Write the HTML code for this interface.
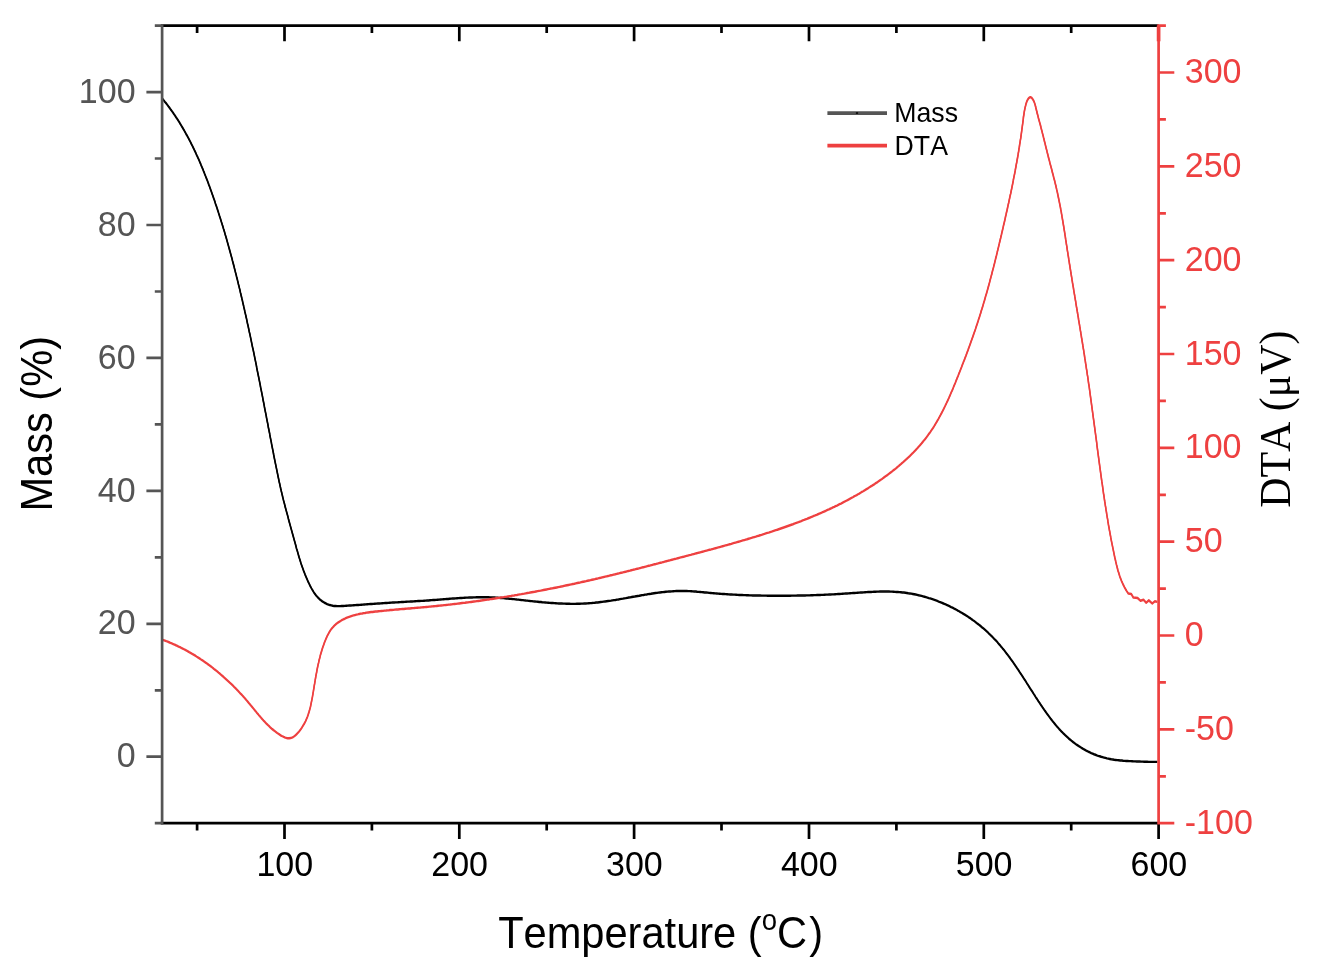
<!DOCTYPE html>
<html lang="en">
<head>
<meta charset="utf-8">
<title>TG-DTA curve</title>
<style>
html,body{margin:0;padding:0;background:#fff;}
body{width:1329px;height:975px;overflow:hidden;}
svg{display:block;}
text{font-kerning:none;}
</style>
</head>
<body>
<svg width="1329" height="975" viewBox="0 0 1329 975">
<rect width="1329" height="975" fill="#fff"/>
<g fill="none" stroke="#000000" stroke-width="1.5" stroke-linejoin="round" stroke-linecap="butt"><path d="M162.1,97.9 L163.0,99.0 L164.0,100.2 L164.9,101.4 L165.9,102.6 L166.8,103.7 L167.7,104.9 L168.6,106.1 L169.5,107.3 L170.4,108.6 L171.3,109.8 L172.1,111.0 L173.0,112.2 L173.8,113.5 L174.7,114.7 L175.5,115.9 L176.3,117.2 L177.2,118.5 L178.0,119.7 L178.8,121.0 L179.6,122.2 L180.3,123.5 L181.1,124.8 L181.9,126.1 L182.7,127.4 L183.4,128.7 L184.2,130.0 L184.9,131.3 L185.6,132.6 L186.3,133.9 L187.1,135.2 L187.8,136.5 L188.5,137.8 L189.2,139.2 L189.9,140.5 L190.6,141.8 L191.2,143.2 L191.9,144.5 L192.6,145.8 L193.2,147.2 L193.9,148.5 L194.5,149.9 L195.2,151.2 L195.8,152.6 L196.4,154.0 L197.0,155.3 L197.7,156.7 L198.3,158.1 L198.9,159.4 L199.5,160.8 L200.1,162.2 L200.7,163.6 L201.2,165.0 L201.8,166.3 L202.4,167.7 L203.0,169.1 L203.5,170.5 L204.1,171.9 L204.6,173.3 L205.2,174.7 L205.7,176.1 L206.3,177.5 L206.8,178.9 L207.4,180.3 L207.9,181.7 L208.4,183.1 L208.9,184.5 L209.5,185.9 L210.0,187.4 L210.5,188.8 L211.0,190.2 L211.5,191.6 L212.0,193.0 L212.5,194.4 L213.0,195.8 L213.5,197.3 L214.0,198.7 L214.5,200.1 L215.0,201.5 L215.4,203.0 L215.9,204.4 L216.4,205.8 L216.9,207.2 L217.3,208.6 L217.8,210.1 L218.3,211.5 L218.7,212.9 L219.2,214.4 L219.6,215.8 L220.1,217.2 L220.5,218.6 L221.0,220.1 L221.4,221.5 L221.9,222.9 L222.3,224.4 L222.8,225.8 L223.2,227.2 L223.6,228.7 L224.1,230.1 L224.5,231.5 L224.9,233.0 L225.3,234.4 L225.8,235.9 L226.2,237.3 L226.6,238.7 L227.0,240.2 L227.4,241.6 L227.8,243.1 L228.2,244.5 L228.6,246.0 L229.0,247.4 L229.4,248.8 L229.8,250.3 L230.2,251.7 L230.6,253.2 L231.0,254.6 L231.4,256.1 L231.8,257.5 L232.2,259.0 L232.5,260.4 L232.9,261.9 L233.3,263.3 L233.7,264.8 L234.1,266.2 L234.4,267.7 L234.8,269.1 L235.2,270.6 L235.5,272.0 L235.9,273.5 L236.3,274.9 L236.6,276.4 L237.0,277.8 L237.4,279.3 L237.7,280.7 L238.1,282.2 L238.4,283.7 L238.8,285.1 L239.2,286.6 L239.5,288.0 L239.9,289.5 L240.2,290.9 L240.5,292.4 L240.9,293.9 L241.2,295.3 L241.6,296.8 L241.9,298.2 L242.3,299.7 L242.6,301.2 L242.9,302.6 L243.3,304.1 L243.6,305.5 L243.9,307.0 L244.3,308.5 L244.6,309.9 L244.9,311.4 L245.3,312.9 L245.6,314.3 L245.9,315.8 L246.3,317.3 L246.6,318.7 L246.9,320.2 L247.2,321.6 L247.5,323.1 L247.9,324.6 L248.2,326.0 L248.5,327.5 L248.8,329.0 L249.1,330.4 L249.4,331.9 L249.8,333.4 L250.1,334.8 L250.4,336.3 L250.7,337.8 L251.0,339.2 L251.3,340.7 L251.6,342.2 L251.9,343.7 L252.2,345.1 L252.5,346.6 L252.9,348.1 L253.2,349.5 L253.5,351.0 L253.8,352.5 L254.1,353.9 L254.4,355.4 L254.7,356.9 L255.0,358.4 L255.3,359.8 L255.6,361.3 L255.9,362.8 L256.2,364.2 L256.5,365.7 L256.7,367.2 L257.0,368.7 L257.3,370.1 L257.6,371.6 L257.9,373.1 L258.2,374.5 L258.5,376.0 L258.8,377.5 L259.1,379.0 L259.4,380.4 L259.7,381.9 L260.0,383.4 L260.3,384.8 L260.5,386.3 L260.8,387.8 L261.1,389.3 L261.4,390.7 L261.7,392.2 L262.0,393.7 L262.3,395.2 L262.6,396.6 L262.8,398.1 L263.1,399.6 L263.4,401.0 L263.7,402.5 L264.0,404.0 L264.3,405.5 L264.5,406.9 L264.8,408.4 L265.1,409.9 L265.4,411.4 L265.7,412.8 L266.0,414.3 L266.3,415.8 L266.5,417.2 L266.8,418.7 L267.1,420.2 L267.4,421.7 L267.7,423.1 L268.0,424.6 L268.2,426.1 L268.5,427.6 L268.8,429.0 L269.1,430.5 L269.4,432.0 L269.7,433.4 L269.9,434.9 L270.2,436.4 L270.5,437.9 L270.8,439.3 L271.1,440.8 L271.4,442.3 L271.6,443.7 L271.9,445.2 L272.2,446.7 L272.5,448.2 L272.8,449.6 L273.1,451.1 L273.4,452.6 L273.6,454.0 L273.9,455.5 L274.2,457.0 L274.5,458.5 L274.8,459.9 L275.1,461.4 L275.4,462.9 L275.7,464.3 L276.0,465.8 L276.3,467.3 L276.6,468.7 L276.9,470.2 L277.2,471.7 L277.5,473.1 L277.8,474.6 L278.1,476.1 L278.4,477.5 L278.7,479.0 L279.0,480.5 L279.3,481.9 L279.7,483.4 L280.0,484.9 L280.3,486.3 L280.6,487.8 L281.0,489.2 L281.3,490.7 L281.7,492.2 L282.0,493.6 L282.4,495.1 L282.7,496.6 L283.1,498.0 L283.4,499.5 L283.8,500.9 L284.2,502.4 L284.6,503.8 L284.9,505.3 L285.3,506.8 L285.7,508.2 L286.1,509.7 L286.5,511.1 L286.9,512.6 L287.3,514.0 L287.7,515.5 L288.1,516.9 L288.4,518.4 L288.8,519.8 L289.2,521.3 L289.6,522.7 L290.0,524.2 L290.4,525.6 L290.8,527.1 L291.2,528.5 L291.6,530.0 L292.0,531.4 L292.4,532.9 L292.8,534.3 L293.2,535.7 L293.6,537.2 L294.0,538.6 L294.4,540.1 L294.8,541.5 L295.2,542.9 L295.6,544.4 L296.0,545.8 L296.3,547.2 L296.7,548.7 L297.2,550.1 L297.6,551.5 L298.0,553.0 L298.4,554.4 L298.8,555.8 L299.2,557.2 L299.7,558.7 L300.1,560.1 L300.6,561.5 L301.0,562.9 L301.5,564.4 L302.0,565.8 L302.5,567.2 L303.0,568.6 L303.5,570.0 L304.0,571.4 L304.6,572.8 L305.1,574.2 L305.7,575.6 L306.3,577.0 L306.9,578.4 L307.5,579.8 L308.1,581.2 L308.8,582.6 L309.5,584.0 L310.1,585.4 L310.9,586.8 L311.6,588.1 L312.4,589.5 L313.2,590.8 L314.0,592.1 L314.8,593.3 L315.7,594.5 L316.7,595.7 L317.7,596.8 L318.7,597.9 L319.7,598.9 L320.9,599.8 L322.0,600.7 L323.2,601.5 L324.5,602.3 L325.8,602.9 L327.1,603.6 L328.5,604.1 L329.9,604.6 L331.3,604.9 L332.8,605.3 L334.2,605.5 L335.7,605.6 L337.2,605.7 L338.7,605.7 L340.2,605.7 L341.7,605.6 L343.3,605.5 L344.8,605.4 L346.3,605.3 L347.8,605.2 L349.3,605.1 L350.8,605.0 L352.3,604.9 L353.8,604.8 L355.3,604.7 L356.8,604.6 L358.3,604.5 L359.8,604.4 L361.3,604.3 L362.8,604.2 L364.3,604.0 L365.8,603.9 L367.3,603.8 L368.8,603.7 L370.3,603.6 L371.8,603.5 L373.3,603.4 L374.8,603.3 L376.3,603.2 L377.8,603.1 L379.3,603.0 L380.8,602.9 L382.3,602.8 L383.8,602.7 L385.3,602.6 L386.8,602.5 L388.2,602.4 L389.7,602.3 L391.2,602.2 L392.7,602.1 L394.2,602.0 L395.7,601.9 L397.2,601.9 L398.7,601.8 L400.2,601.7 L401.7,601.6 L403.2,601.5 L404.7,601.4 L406.2,601.3 L407.7,601.2 L409.1,601.2 L410.6,601.1 L412.1,601.0 L413.6,600.9 L415.1,600.8 L416.6,600.7 L418.1,600.6 L419.6,600.5 L421.1,600.4 L422.6,600.4 L424.1,600.3 L425.6,600.2 L427.1,600.1 L428.6,600.0 L430.1,599.8 L431.6,599.7 L433.1,599.6 L434.6,599.5 L436.1,599.4 L437.6,599.3 L439.1,599.2 L440.6,599.0 L442.1,598.9 L443.6,598.8 L445.1,598.7 L446.6,598.6 L448.1,598.5 L449.6,598.3 L451.1,598.2 L452.6,598.1 L454.1,598.0 L455.6,597.9 L457.1,597.8 L458.6,597.7 L460.1,597.6 L461.6,597.5 L463.1,597.4 L464.6,597.3 L466.1,597.2 L467.6,597.2 L469.1,597.1 L470.6,597.0 L472.1,597.0 L473.6,596.9 L475.1,596.9 L476.6,596.8 L478.1,596.8 L479.6,596.8 L481.1,596.8 L482.6,596.8 L484.1,596.8 L485.6,596.8 L487.0,596.8 L488.5,596.8 L490.0,596.9 L491.5,596.9 L493.0,597.0 L494.5,597.1 L496.0,597.2 L497.5,597.3 L499.0,597.4 L500.5,597.5 L502.0,597.6 L503.5,597.7 L504.9,597.8 L506.4,598.0 L507.9,598.1 L509.4,598.3 L510.9,598.4 L512.4,598.6 L513.9,598.7 L515.4,598.9 L516.9,599.1 L518.4,599.2 L519.9,599.4 L521.3,599.6 L522.8,599.7 L524.3,599.9 L525.8,600.1 L527.3,600.2 L528.8,600.4 L530.3,600.6 L531.8,600.7 L533.3,600.9 L534.8,601.0 L536.3,601.2 L537.8,601.3 L539.3,601.5 L540.8,601.6 L542.3,601.8 L543.8,601.9 L545.3,602.0 L546.8,602.2 L548.3,602.3 L549.8,602.4 L551.3,602.5 L552.8,602.6 L554.3,602.7 L555.8,602.8 L557.3,602.9 L558.8,603.0 L560.3,603.1 L561.8,603.1 L563.3,603.2 L564.8,603.2 L566.3,603.3 L567.8,603.3 L569.3,603.3 L570.8,603.4 L572.3,603.4 L573.8,603.4 L575.3,603.4 L576.8,603.3 L578.3,603.3 L579.8,603.3 L581.3,603.2 L582.8,603.2 L584.3,603.1 L585.8,603.0 L587.3,602.9 L588.8,602.8 L590.3,602.7 L591.8,602.6 L593.2,602.4 L594.7,602.3 L596.2,602.1 L597.7,602.0 L599.2,601.8 L600.7,601.6 L602.1,601.4 L603.6,601.2 L605.1,601.0 L606.6,600.8 L608.1,600.6 L609.6,600.4 L611.0,600.2 L612.5,599.9 L614.0,599.7 L615.5,599.5 L617.0,599.2 L618.4,599.0 L619.9,598.7 L621.4,598.4 L622.9,598.2 L624.4,597.9 L625.8,597.7 L627.3,597.4 L628.8,597.1 L630.3,596.9 L631.8,596.6 L633.2,596.3 L634.7,596.1 L636.2,595.8 L637.7,595.5 L639.2,595.3 L640.6,595.0 L642.1,594.7 L643.6,594.5 L645.1,594.2 L646.6,594.0 L648.1,593.7 L649.5,593.5 L651.0,593.3 L652.5,593.0 L654.0,592.8 L655.5,592.6 L657.0,592.4 L658.4,592.2 L659.9,592.0 L661.4,591.8 L662.9,591.7 L664.4,591.5 L665.9,591.3 L667.4,591.2 L668.9,591.1 L670.3,591.0 L671.8,590.9 L673.3,590.8 L674.8,590.7 L676.3,590.6 L677.8,590.6 L679.3,590.5 L680.8,590.5 L682.3,590.5 L683.8,590.5 L685.3,590.5 L686.8,590.6 L688.3,590.7 L689.8,590.7 L691.3,590.8 L692.8,590.9 L694.2,591.0 L695.7,591.1 L697.2,591.3 L698.7,591.4 L700.2,591.5 L701.7,591.7 L703.2,591.8 L704.7,592.0 L706.2,592.1 L707.7,592.2 L709.2,592.4 L710.7,592.5 L712.2,592.7 L713.7,592.8 L715.2,592.9 L716.7,593.0 L718.2,593.2 L719.7,593.3 L721.2,593.4 L722.7,593.5 L724.2,593.6 L725.7,593.7 L727.2,593.8 L728.7,593.9 L730.2,594.0 L731.7,594.1 L733.2,594.2 L734.7,594.2 L736.2,594.3 L737.7,594.4 L739.2,594.5 L740.7,594.5 L742.2,594.6 L743.7,594.7 L745.2,594.7 L746.7,594.8 L748.2,594.8 L749.7,594.9 L751.2,594.9 L752.7,595.0 L754.2,595.0 L755.7,595.0 L757.2,595.1 L758.7,595.1 L760.2,595.1 L761.7,595.2 L763.2,595.2 L764.7,595.2 L766.2,595.2 L767.7,595.3 L769.2,595.3 L770.7,595.3 L772.2,595.3 L773.7,595.3 L775.2,595.3 L776.7,595.3 L778.2,595.3 L779.7,595.3 L781.2,595.3 L782.7,595.3 L784.2,595.3 L785.7,595.3 L787.2,595.3 L788.7,595.3 L790.2,595.3 L791.7,595.2 L793.2,595.2 L794.7,595.2 L796.1,595.2 L797.6,595.1 L799.1,595.1 L800.6,595.1 L802.1,595.1 L803.6,595.0 L805.1,595.0 L806.6,594.9 L808.1,594.9 L809.6,594.9 L811.1,594.8 L812.6,594.8 L814.1,594.7 L815.6,594.7 L817.1,594.6 L818.6,594.6 L820.1,594.5 L821.6,594.4 L823.1,594.4 L824.6,594.3 L826.1,594.2 L827.6,594.2 L829.1,594.1 L830.6,594.0 L832.1,593.9 L833.6,593.9 L835.1,593.8 L836.6,593.7 L838.1,593.6 L839.6,593.5 L841.1,593.4 L842.6,593.3 L844.1,593.2 L845.6,593.1 L847.1,593.0 L848.6,592.9 L850.1,592.8 L851.6,592.7 L853.1,592.6 L854.6,592.5 L856.1,592.4 L857.6,592.3 L859.1,592.2 L860.6,592.1 L862.1,592.0 L863.6,591.9 L865.1,591.8 L866.6,591.7 L868.1,591.6 L869.6,591.5 L871.1,591.5 L872.6,591.4 L874.0,591.3 L875.5,591.3 L877.0,591.2 L878.5,591.2 L880.0,591.1 L881.5,591.1 L883.0,591.1 L884.5,591.1 L886.0,591.1 L887.5,591.1 L889.0,591.1 L890.5,591.2 L892.0,591.2 L893.5,591.3 L895.0,591.4 L896.5,591.5 L897.9,591.6 L899.4,591.7 L900.9,591.8 L902.4,592.0 L903.9,592.1 L905.4,592.3 L906.8,592.5 L908.3,592.8 L909.8,593.0 L911.3,593.2 L912.8,593.5 L914.2,593.8 L915.7,594.1 L917.2,594.4 L918.6,594.8 L920.1,595.1 L921.6,595.5 L923.0,595.9 L924.5,596.3 L925.9,596.7 L927.4,597.1 L928.8,597.6 L930.2,598.0 L931.7,598.5 L933.1,599.0 L934.5,599.5 L935.9,600.0 L937.3,600.5 L938.7,601.1 L940.1,601.6 L941.5,602.2 L942.9,602.8 L944.3,603.4 L945.7,604.0 L947.1,604.6 L948.4,605.2 L949.8,605.9 L951.1,606.6 L952.5,607.2 L953.8,607.9 L955.2,608.6 L956.5,609.3 L957.8,610.1 L959.1,610.8 L960.4,611.6 L961.7,612.3 L963.0,613.1 L964.3,613.9 L965.6,614.7 L966.8,615.5 L968.1,616.3 L969.3,617.2 L970.6,618.0 L971.8,618.9 L973.0,619.8 L974.2,620.6 L975.4,621.5 L976.6,622.5 L977.8,623.4 L979.0,624.3 L980.1,625.2 L981.3,626.2 L982.4,627.2 L983.6,628.1 L984.7,629.1 L985.8,630.1 L986.9,631.1 L988.0,632.1 L989.1,633.2 L990.2,634.2 L991.2,635.2 L992.3,636.3 L993.3,637.4 L994.3,638.5 L995.4,639.5 L996.4,640.6 L997.4,641.7 L998.3,642.9 L999.3,644.0 L1000.3,645.1 L1001.2,646.3 L1002.2,647.4 L1003.1,648.6 L1004.1,649.7 L1005.0,650.9 L1005.9,652.1 L1006.8,653.3 L1007.7,654.4 L1008.6,655.6 L1009.5,656.8 L1010.4,658.1 L1011.2,659.3 L1012.1,660.5 L1013.0,661.7 L1013.8,662.9 L1014.7,664.2 L1015.5,665.4 L1016.4,666.7 L1017.2,667.9 L1018.1,669.1 L1018.9,670.4 L1019.7,671.7 L1020.5,672.9 L1021.4,674.2 L1022.2,675.4 L1023.0,676.7 L1023.8,678.0 L1024.6,679.2 L1025.5,680.5 L1026.3,681.8 L1027.1,683.1 L1027.9,684.3 L1028.7,685.6 L1029.5,686.9 L1030.3,688.2 L1031.1,689.4 L1032.0,690.7 L1032.8,692.0 L1033.6,693.3 L1034.4,694.5 L1035.2,695.8 L1036.0,697.1 L1036.9,698.3 L1037.7,699.6 L1038.5,700.9 L1039.4,702.1 L1040.2,703.4 L1041.0,704.6 L1041.9,705.9 L1042.7,707.1 L1043.6,708.4 L1044.4,709.6 L1045.3,710.8 L1046.2,712.1 L1047.0,713.3 L1047.9,714.5 L1048.8,715.7 L1049.7,716.9 L1050.6,718.1 L1051.5,719.3 L1052.4,720.5 L1053.4,721.7 L1054.3,722.8 L1055.3,724.0 L1056.2,725.1 L1057.2,726.3 L1058.2,727.4 L1059.1,728.5 L1060.1,729.6 L1061.2,730.7 L1062.2,731.7 L1063.2,732.8 L1064.3,733.9 L1065.3,734.9 L1066.4,735.9 L1067.5,736.9 L1068.6,737.9 L1069.8,738.9 L1070.9,739.8 L1072.1,740.8 L1073.2,741.7 L1074.4,742.6 L1075.6,743.5 L1076.9,744.4 L1078.1,745.2 L1079.3,746.0 L1080.6,746.8 L1081.9,747.6 L1083.2,748.4 L1084.5,749.1 L1085.8,749.9 L1087.2,750.6 L1088.5,751.3 L1089.9,751.9 L1091.2,752.6 L1092.6,753.2 L1094.0,753.8 L1095.4,754.3 L1096.8,754.9 L1098.2,755.4 L1099.7,755.8 L1101.1,756.3 L1102.5,756.7 L1104.0,757.1 L1105.4,757.5 L1106.9,757.9 L1108.3,758.2 L1109.8,758.5 L1111.3,758.8 L1112.8,759.0 L1114.2,759.3 L1115.7,759.5 L1117.2,759.7 L1118.7,759.8 L1120.2,760.0 L1121.7,760.1 L1123.2,760.3 L1124.7,760.4 L1126.2,760.5 L1127.7,760.6 L1129.2,760.7 L1130.7,760.7 L1132.2,760.8 L1133.7,760.9 L1135.2,760.9 L1136.7,761.0 L1138.2,761.1 L1139.7,761.1 L1141.2,761.2 L1142.7,761.2 L1144.2,761.3 L1145.7,761.3 L1147.2,761.3 L1148.7,761.4 L1150.2,761.4 L1151.6,761.4 L1153.2,761.4 L1154.7,761.4 L1156.2,761.4 L1157.3,761.4"/><path d="M162.1,98.8 L163.0,99.9 L164.0,101.1 L164.9,102.3 L165.9,103.5 L166.8,104.6 L167.7,105.8 L168.6,107.0 L169.5,108.2 L170.4,109.5 L171.3,110.7 L172.1,111.9 L173.0,113.1 L173.8,114.4 L174.7,115.6 L175.5,116.8 L176.3,118.1 L177.2,119.4 L178.0,120.6 L178.8,121.9 L179.6,123.1 L180.3,124.4 L181.1,125.7 L181.9,127.0 L182.7,128.3 L183.4,129.6 L184.2,130.9 L184.9,132.2 L185.6,133.5 L186.3,134.8 L187.1,136.1 L187.8,137.4 L188.5,138.7 L189.2,140.1 L189.9,141.4 L190.6,142.7 L191.2,144.1 L191.9,145.4 L192.6,146.7 L193.2,148.1 L193.9,149.4 L194.5,150.8 L195.2,152.1 L195.8,153.5 L196.4,154.9 L197.0,156.2 L197.7,157.6 L198.3,159.0 L198.9,160.3 L199.5,161.7 L200.1,163.1 L200.7,164.5 L201.2,165.9 L201.8,167.2 L202.4,168.6 L203.0,170.0 L203.5,171.4 L204.1,172.8 L204.6,174.2 L205.2,175.6 L205.7,177.0 L206.3,178.4 L206.8,179.8 L207.4,181.2 L207.9,182.6 L208.4,184.0 L208.9,185.4 L209.5,186.8 L210.0,188.3 L210.5,189.7 L211.0,191.1 L211.5,192.5 L212.0,193.9 L212.5,195.3 L213.0,196.7 L213.5,198.2 L214.0,199.6 L214.5,201.0 L215.0,202.4 L215.4,203.9 L215.9,205.3 L216.4,206.7 L216.9,208.1 L217.3,209.5 L217.8,211.0 L218.3,212.4 L218.7,213.8 L219.2,215.3 L219.6,216.7 L220.1,218.1 L220.5,219.5 L221.0,221.0 L221.4,222.4 L221.9,223.8 L222.3,225.3 L222.8,226.7 L223.2,228.1 L223.6,229.6 L224.1,231.0 L224.5,232.4 L224.9,233.9 L225.3,235.3 L225.8,236.8 L226.2,238.2 L226.6,239.6 L227.0,241.1 L227.4,242.5 L227.8,244.0 L228.2,245.4 L228.6,246.9 L229.0,248.3 L229.4,249.7 L229.8,251.2 L230.2,252.6 L230.6,254.1 L231.0,255.5 L231.4,257.0 L231.8,258.4 L232.2,259.9 L232.5,261.3 L232.9,262.8 L233.3,264.2 L233.7,265.7 L234.1,267.1 L234.4,268.6 L234.8,270.0 L235.2,271.5 L235.5,272.9 L235.9,274.4 L236.3,275.8 L236.6,277.3 L237.0,278.7 L237.4,280.2 L237.7,281.6 L238.1,283.1 L238.4,284.6 L238.8,286.0 L239.2,287.5 L239.5,288.9 L239.9,290.4 L240.2,291.8 L240.5,293.3 L240.9,294.8 L241.2,296.2 L241.6,297.7 L241.9,299.1 L242.3,300.6 L242.6,302.1 L242.9,303.5 L243.3,305.0 L243.6,306.4 L243.9,307.9 L244.3,309.4 L244.6,310.8 L244.9,312.3 L245.3,313.8 L245.6,315.2 L245.9,316.7 L246.3,318.2 L246.6,319.6 L246.9,321.1 L247.2,322.5 L247.5,324.0 L247.9,325.5 L248.2,326.9 L248.5,328.4 L248.8,329.9 L249.1,331.3 L249.4,332.8 L249.8,334.3 L250.1,335.7 L250.4,337.2 L250.7,338.7 L251.0,340.1 L251.3,341.6 L251.6,343.1 L251.9,344.6 L252.2,346.0 L252.5,347.5 L252.9,349.0 L253.2,350.4 L253.5,351.9 L253.8,353.4 L254.1,354.8 L254.4,356.3 L254.7,357.8 L255.0,359.3 L255.3,360.7 L255.6,362.2 L255.9,363.7 L256.2,365.1 L256.5,366.6 L256.7,368.1 L257.0,369.6 L257.3,371.0 L257.6,372.5 L257.9,374.0 L258.2,375.4 L258.5,376.9 L258.8,378.4 L259.1,379.9 L259.4,381.3 L259.7,382.8 L260.0,384.3 L260.3,385.7 L260.5,387.2 L260.8,388.7 L261.1,390.2 L261.4,391.6 L261.7,393.1 L262.0,394.6 L262.3,396.1 L262.6,397.5 L262.8,399.0 L263.1,400.5 L263.4,401.9 L263.7,403.4 L264.0,404.9 L264.3,406.4 L264.5,407.8 L264.8,409.3 L265.1,410.8 L265.4,412.3 L265.7,413.7 L266.0,415.2 L266.3,416.7 L266.5,418.1 L266.8,419.6 L267.1,421.1 L267.4,422.6 L267.7,424.0 L268.0,425.5 L268.2,427.0 L268.5,428.5 L268.8,429.9 L269.1,431.4 L269.4,432.9 L269.7,434.3 L269.9,435.8 L270.2,437.3 L270.5,438.8 L270.8,440.2 L271.1,441.7 L271.4,443.2 L271.6,444.6 L271.9,446.1 L272.2,447.6 L272.5,449.1 L272.8,450.5 L273.1,452.0 L273.4,453.5 L273.6,454.9 L273.9,456.4 L274.2,457.9 L274.5,459.4 L274.8,460.8 L275.1,462.3 L275.4,463.8 L275.7,465.2 L276.0,466.7 L276.3,468.2 L276.6,469.6 L276.9,471.1 L277.2,472.6 L277.5,474.0 L277.8,475.5 L278.1,477.0 L278.4,478.4 L278.7,479.9 L279.0,481.4 L279.3,482.8 L279.7,484.3 L280.0,485.8 L280.3,487.2 L280.6,488.7 L281.0,490.1 L281.3,491.6 L281.7,493.1 L282.0,494.5 L282.4,496.0 L282.7,497.5 L283.1,498.9 L283.4,500.4 L283.8,501.8 L284.2,503.3 L284.6,504.7 L284.9,506.2 L285.3,507.7 L285.7,509.1 L286.1,510.6 L286.5,512.0 L286.9,513.5 L287.3,514.9 L287.7,516.4 L288.1,517.8 L288.4,519.3 L288.8,520.7 L289.2,522.2 L289.6,523.6 L290.0,525.1 L290.4,526.5 L290.8,528.0 L291.2,529.4 L291.6,530.9 L292.0,532.3 L292.4,533.8 L292.8,535.2 L293.2,536.6 L293.6,538.1 L294.0,539.5 L294.4,541.0 L294.8,542.4 L295.2,543.8 L295.6,545.3 L296.0,546.7 L296.3,548.1 L296.7,549.6 L297.2,551.0 L297.6,552.4 L298.0,553.9 L298.4,555.3 L298.8,556.7 L299.2,558.1 L299.7,559.6 L300.1,561.0 L300.6,562.4 L301.0,563.8 L301.5,565.3 L302.0,566.7 L302.5,568.1 L303.0,569.5 L303.5,570.9 L304.0,572.3 L304.6,573.7 L305.1,575.1 L305.7,576.5 L306.3,577.9 L306.9,579.3 L307.5,580.7 L308.1,582.1 L308.8,583.5 L309.5,584.9 L310.1,586.3 L310.9,587.7 L311.6,589.0 L312.4,590.4 L313.2,591.7 L314.0,593.0 L314.8,594.2 L315.7,595.4 L316.7,596.6 L317.7,597.7 L318.7,598.8 L319.7,599.8 L320.9,600.7 L322.0,601.6 L323.2,602.4 L324.5,603.2 L325.8,603.8 L327.1,604.5 L328.5,605.0 L329.9,605.5 L331.3,605.8 L332.8,606.2 L334.2,606.4 L335.7,606.5 L337.2,606.6 L338.7,606.6 L340.2,606.6 L341.7,606.5 L343.3,606.4 L344.8,606.3 L346.3,606.2 L347.8,606.1 L349.3,606.0 L350.8,605.9 L352.3,605.8 L353.8,605.7 L355.3,605.6 L356.8,605.5 L358.3,605.4 L359.8,605.3 L361.3,605.2 L362.8,605.1 L364.3,604.9 L365.8,604.8 L367.3,604.7 L368.8,604.6 L370.3,604.5 L371.8,604.4 L373.3,604.3 L374.8,604.2 L376.3,604.1 L377.8,604.0 L379.3,603.9 L380.8,603.8 L382.3,603.7 L383.8,603.6 L385.3,603.5 L386.8,603.4 L388.2,603.3 L389.7,603.2 L391.2,603.1 L392.7,603.0 L394.2,602.9 L395.7,602.8 L397.2,602.8 L398.7,602.7 L400.2,602.6 L401.7,602.5 L403.2,602.4 L404.7,602.3 L406.2,602.2 L407.7,602.1 L409.1,602.1 L410.6,602.0 L412.1,601.9 L413.6,601.8 L415.1,601.7 L416.6,601.6 L418.1,601.5 L419.6,601.4 L421.1,601.3 L422.6,601.3 L424.1,601.2 L425.6,601.1 L427.1,601.0 L428.6,600.9 L430.1,600.7 L431.6,600.6 L433.1,600.5 L434.6,600.4 L436.1,600.3 L437.6,600.2 L439.1,600.1 L440.6,599.9 L442.1,599.8 L443.6,599.7 L445.1,599.6 L446.6,599.5 L448.1,599.4 L449.6,599.2 L451.1,599.1 L452.6,599.0 L454.1,598.9 L455.6,598.8 L457.1,598.7 L458.6,598.6 L460.1,598.5 L461.6,598.4 L463.1,598.3 L464.6,598.2 L466.1,598.1 L467.6,598.1 L469.1,598.0 L470.6,597.9 L472.1,597.9 L473.6,597.8 L475.1,597.8 L476.6,597.7 L478.1,597.7 L479.6,597.7 L481.1,597.7 L482.6,597.7 L484.1,597.7 L485.6,597.7 L487.0,597.7 L488.5,597.7 L490.0,597.8 L491.5,597.8 L493.0,597.9 L494.5,598.0 L496.0,598.1 L497.5,598.2 L499.0,598.3 L500.5,598.4 L502.0,598.5 L503.5,598.6 L504.9,598.7 L506.4,598.9 L507.9,599.0 L509.4,599.2 L510.9,599.3 L512.4,599.5 L513.9,599.6 L515.4,599.8 L516.9,600.0 L518.4,600.1 L519.9,600.3 L521.3,600.5 L522.8,600.6 L524.3,600.8 L525.8,601.0 L527.3,601.1 L528.8,601.3 L530.3,601.5 L531.8,601.6 L533.3,601.8 L534.8,601.9 L536.3,602.1 L537.8,602.2 L539.3,602.4 L540.8,602.5 L542.3,602.7 L543.8,602.8 L545.3,602.9 L546.8,603.1 L548.3,603.2 L549.8,603.3 L551.3,603.4 L552.8,603.5 L554.3,603.6 L555.8,603.7 L557.3,603.8 L558.8,603.9 L560.3,604.0 L561.8,604.0 L563.3,604.1 L564.8,604.1 L566.3,604.2 L567.8,604.2 L569.3,604.2 L570.8,604.3 L572.3,604.3 L573.8,604.3 L575.3,604.3 L576.8,604.2 L578.3,604.2 L579.8,604.2 L581.3,604.1 L582.8,604.1 L584.3,604.0 L585.8,603.9 L587.3,603.8 L588.8,603.7 L590.3,603.6 L591.8,603.5 L593.2,603.3 L594.7,603.2 L596.2,603.0 L597.7,602.9 L599.2,602.7 L600.7,602.5 L602.1,602.3 L603.6,602.1 L605.1,601.9 L606.6,601.7 L608.1,601.5 L609.6,601.3 L611.0,601.1 L612.5,600.8 L614.0,600.6 L615.5,600.4 L617.0,600.1 L618.4,599.9 L619.9,599.6 L621.4,599.3 L622.9,599.1 L624.4,598.8 L625.8,598.6 L627.3,598.3 L628.8,598.0 L630.3,597.8 L631.8,597.5 L633.2,597.2 L634.7,597.0 L636.2,596.7 L637.7,596.4 L639.2,596.2 L640.6,595.9 L642.1,595.6 L643.6,595.4 L645.1,595.1 L646.6,594.9 L648.1,594.6 L649.5,594.4 L651.0,594.2 L652.5,593.9 L654.0,593.7 L655.5,593.5 L657.0,593.3 L658.4,593.1 L659.9,592.9 L661.4,592.7 L662.9,592.6 L664.4,592.4 L665.9,592.2 L667.4,592.1 L668.9,592.0 L670.3,591.9 L671.8,591.8 L673.3,591.7 L674.8,591.6 L676.3,591.5 L677.8,591.5 L679.3,591.4 L680.8,591.4 L682.3,591.4 L683.8,591.4 L685.3,591.4 L686.8,591.5 L688.3,591.6 L689.8,591.6 L691.3,591.7 L692.8,591.8 L694.2,591.9 L695.7,592.0 L697.2,592.2 L698.7,592.3 L700.2,592.4 L701.7,592.6 L703.2,592.7 L704.7,592.9 L706.2,593.0 L707.7,593.1 L709.2,593.3 L710.7,593.4 L712.2,593.6 L713.7,593.7 L715.2,593.8 L716.7,593.9 L718.2,594.1 L719.7,594.2 L721.2,594.3 L722.7,594.4 L724.2,594.5 L725.7,594.6 L727.2,594.7 L728.7,594.8 L730.2,594.9 L731.7,595.0 L733.2,595.1 L734.7,595.1 L736.2,595.2 L737.7,595.3 L739.2,595.4 L740.7,595.4 L742.2,595.5 L743.7,595.6 L745.2,595.6 L746.7,595.7 L748.2,595.7 L749.7,595.8 L751.2,595.8 L752.7,595.9 L754.2,595.9 L755.7,595.9 L757.2,596.0 L758.7,596.0 L760.2,596.0 L761.7,596.1 L763.2,596.1 L764.7,596.1 L766.2,596.1 L767.7,596.2 L769.2,596.2 L770.7,596.2 L772.2,596.2 L773.7,596.2 L775.2,596.2 L776.7,596.2 L778.2,596.2 L779.7,596.2 L781.2,596.2 L782.7,596.2 L784.2,596.2 L785.7,596.2 L787.2,596.2 L788.7,596.2 L790.2,596.2 L791.7,596.1 L793.2,596.1 L794.7,596.1 L796.1,596.1 L797.6,596.0 L799.1,596.0 L800.6,596.0 L802.1,596.0 L803.6,595.9 L805.1,595.9 L806.6,595.8 L808.1,595.8 L809.6,595.8 L811.1,595.7 L812.6,595.7 L814.1,595.6 L815.6,595.6 L817.1,595.5 L818.6,595.5 L820.1,595.4 L821.6,595.3 L823.1,595.3 L824.6,595.2 L826.1,595.1 L827.6,595.1 L829.1,595.0 L830.6,594.9 L832.1,594.8 L833.6,594.8 L835.1,594.7 L836.6,594.6 L838.1,594.5 L839.6,594.4 L841.1,594.3 L842.6,594.2 L844.1,594.1 L845.6,594.0 L847.1,593.9 L848.6,593.8 L850.1,593.7 L851.6,593.6 L853.1,593.5 L854.6,593.4 L856.1,593.3 L857.6,593.2 L859.1,593.1 L860.6,593.0 L862.1,592.9 L863.6,592.8 L865.1,592.7 L866.6,592.6 L868.1,592.5 L869.6,592.4 L871.1,592.4 L872.6,592.3 L874.0,592.2 L875.5,592.2 L877.0,592.1 L878.5,592.1 L880.0,592.0 L881.5,592.0 L883.0,592.0 L884.5,592.0 L886.0,592.0 L887.5,592.0 L889.0,592.0 L890.5,592.1 L892.0,592.1 L893.5,592.2 L895.0,592.3 L896.5,592.4 L897.9,592.5 L899.4,592.6 L900.9,592.7 L902.4,592.9 L903.9,593.0 L905.4,593.2 L906.8,593.4 L908.3,593.7 L909.8,593.9 L911.3,594.1 L912.8,594.4 L914.2,594.7 L915.7,595.0 L917.2,595.3 L918.6,595.7 L920.1,596.0 L921.6,596.4 L923.0,596.8 L924.5,597.2 L925.9,597.6 L927.4,598.0 L928.8,598.5 L930.2,598.9 L931.7,599.4 L933.1,599.9 L934.5,600.4 L935.9,600.9 L937.3,601.4 L938.7,602.0 L940.1,602.5 L941.5,603.1 L942.9,603.7 L944.3,604.3 L945.7,604.9 L947.1,605.5 L948.4,606.1 L949.8,606.8 L951.1,607.5 L952.5,608.1 L953.8,608.8 L955.2,609.5 L956.5,610.2 L957.8,611.0 L959.1,611.7 L960.4,612.5 L961.7,613.2 L963.0,614.0 L964.3,614.8 L965.6,615.6 L966.8,616.4 L968.1,617.2 L969.3,618.1 L970.6,618.9 L971.8,619.8 L973.0,620.7 L974.2,621.5 L975.4,622.4 L976.6,623.4 L977.8,624.3 L979.0,625.2 L980.1,626.1 L981.3,627.1 L982.4,628.1 L983.6,629.0 L984.7,630.0 L985.8,631.0 L986.9,632.0 L988.0,633.0 L989.1,634.1 L990.2,635.1 L991.2,636.1 L992.3,637.2 L993.3,638.3 L994.3,639.4 L995.4,640.4 L996.4,641.5 L997.4,642.6 L998.3,643.8 L999.3,644.9 L1000.3,646.0 L1001.2,647.2 L1002.2,648.3 L1003.1,649.5 L1004.1,650.6 L1005.0,651.8 L1005.9,653.0 L1006.8,654.2 L1007.7,655.3 L1008.6,656.5 L1009.5,657.7 L1010.4,659.0 L1011.2,660.2 L1012.1,661.4 L1013.0,662.6 L1013.8,663.8 L1014.7,665.1 L1015.5,666.3 L1016.4,667.6 L1017.2,668.8 L1018.1,670.0 L1018.9,671.3 L1019.7,672.6 L1020.5,673.8 L1021.4,675.1 L1022.2,676.3 L1023.0,677.6 L1023.8,678.9 L1024.6,680.1 L1025.5,681.4 L1026.3,682.7 L1027.1,684.0 L1027.9,685.2 L1028.7,686.5 L1029.5,687.8 L1030.3,689.1 L1031.1,690.3 L1032.0,691.6 L1032.8,692.9 L1033.6,694.2 L1034.4,695.4 L1035.2,696.7 L1036.0,698.0 L1036.9,699.2 L1037.7,700.5 L1038.5,701.8 L1039.4,703.0 L1040.2,704.3 L1041.0,705.5 L1041.9,706.8 L1042.7,708.0 L1043.6,709.3 L1044.4,710.5 L1045.3,711.7 L1046.2,713.0 L1047.0,714.2 L1047.9,715.4 L1048.8,716.6 L1049.7,717.8 L1050.6,719.0 L1051.5,720.2 L1052.4,721.4 L1053.4,722.6 L1054.3,723.7 L1055.3,724.9 L1056.2,726.0 L1057.2,727.2 L1058.2,728.3 L1059.1,729.4 L1060.1,730.5 L1061.2,731.6 L1062.2,732.6 L1063.2,733.7 L1064.3,734.8 L1065.3,735.8 L1066.4,736.8 L1067.5,737.8 L1068.6,738.8 L1069.8,739.8 L1070.9,740.7 L1072.1,741.7 L1073.2,742.6 L1074.4,743.5 L1075.6,744.4 L1076.9,745.3 L1078.1,746.1 L1079.3,746.9 L1080.6,747.7 L1081.9,748.5 L1083.2,749.3 L1084.5,750.0 L1085.8,750.8 L1087.2,751.5 L1088.5,752.2 L1089.9,752.8 L1091.2,753.5 L1092.6,754.1 L1094.0,754.7 L1095.4,755.2 L1096.8,755.8 L1098.2,756.3 L1099.7,756.7 L1101.1,757.2 L1102.5,757.6 L1104.0,758.0 L1105.4,758.4 L1106.9,758.8 L1108.3,759.1 L1109.8,759.4 L1111.3,759.7 L1112.8,759.9 L1114.2,760.2 L1115.7,760.4 L1117.2,760.6 L1118.7,760.7 L1120.2,760.9 L1121.7,761.0 L1123.2,761.2 L1124.7,761.3 L1126.2,761.4 L1127.7,761.5 L1129.2,761.6 L1130.7,761.6 L1132.2,761.7 L1133.7,761.8 L1135.2,761.8 L1136.7,761.9 L1138.2,762.0 L1139.7,762.0 L1141.2,762.1 L1142.7,762.1 L1144.2,762.2 L1145.7,762.2 L1147.2,762.2 L1148.7,762.3 L1150.2,762.3 L1151.6,762.3 L1153.2,762.3 L1154.7,762.3 L1156.2,762.3 L1157.3,762.3"/></g>
<g fill="none" stroke="#ee4040" stroke-width="1.5" stroke-linejoin="round" stroke-linecap="butt"><path d="M162.0,639.1 L163.5,639.6 L164.9,640.1 L166.3,640.7 L167.7,641.2 L169.1,641.8 L170.4,642.4 L171.8,643.0 L173.2,643.6 L174.6,644.2 L175.9,644.8 L177.3,645.4 L178.6,646.1 L180.0,646.7 L181.3,647.4 L182.7,648.1 L184.0,648.8 L185.3,649.5 L186.6,650.2 L187.9,650.9 L189.2,651.7 L190.5,652.4 L191.8,653.2 L193.1,653.9 L194.4,654.7 L195.7,655.5 L196.9,656.3 L198.2,657.1 L199.5,657.9 L200.7,658.8 L202.0,659.6 L203.2,660.4 L204.4,661.3 L205.6,662.2 L206.9,663.0 L208.1,663.9 L209.3,664.8 L210.5,665.7 L211.7,666.6 L212.9,667.5 L214.0,668.5 L215.2,669.4 L216.4,670.3 L217.6,671.3 L218.7,672.3 L219.9,673.2 L221.0,674.2 L222.1,675.2 L223.3,676.2 L224.4,677.2 L225.5,678.2 L226.6,679.2 L227.7,680.2 L228.8,681.2 L229.9,682.3 L231.0,683.3 L232.1,684.4 L233.1,685.4 L234.2,686.5 L235.3,687.5 L236.3,688.6 L237.4,689.7 L238.4,690.8 L239.4,691.9 L240.4,693.0 L241.5,694.1 L242.5,695.2 L243.5,696.3 L244.5,697.4 L245.5,698.6 L246.4,699.7 L247.4,700.8 L248.4,702.0 L249.3,703.1 L250.3,704.3 L251.2,705.4 L252.2,706.6 L253.1,707.7 L254.1,708.9 L255.0,710.1 L256.0,711.2 L256.9,712.4 L257.9,713.5 L258.8,714.7 L259.8,715.8 L260.8,716.9 L261.7,718.1 L262.7,719.2 L263.7,720.3 L264.8,721.4 L265.8,722.5 L266.8,723.5 L267.9,724.6 L269.0,725.6 L270.1,726.7 L271.2,727.7 L272.3,728.7 L273.5,729.7 L274.7,730.6 L275.9,731.5 L277.2,732.5 L278.4,733.3 L279.7,734.2 L281.1,735.1 L282.4,735.8 L283.8,736.5 L285.2,737.1 L286.5,737.5 L287.9,737.8 L289.2,737.8 L290.6,737.6 L291.9,737.2 L293.1,736.6 L294.3,735.8 L295.5,734.8 L296.6,733.7 L297.7,732.6 L298.8,731.4 L299.8,730.1 L300.7,728.9 L301.6,727.6 L302.4,726.3 L303.2,725.0 L304.0,723.7 L304.7,722.4 L305.4,721.1 L306.0,719.7 L306.6,718.3 L307.2,717.0 L307.7,715.6 L308.2,714.2 L308.6,712.8 L309.1,711.3 L309.5,709.9 L309.9,708.5 L310.3,707.0 L310.6,705.6 L310.9,704.1 L311.2,702.6 L311.5,701.2 L311.8,699.7 L312.1,698.2 L312.4,696.7 L312.6,695.3 L312.9,693.8 L313.1,692.3 L313.4,690.8 L313.6,689.3 L313.9,687.8 L314.1,686.4 L314.3,684.9 L314.6,683.4 L314.8,681.9 L315.1,680.4 L315.3,678.9 L315.6,677.5 L315.8,676.0 L316.1,674.5 L316.4,673.0 L316.7,671.5 L316.9,670.1 L317.2,668.6 L317.5,667.1 L317.8,665.7 L318.1,664.2 L318.5,662.7 L318.8,661.3 L319.1,659.8 L319.5,658.4 L319.9,656.9 L320.2,655.5 L320.6,654.0 L321.0,652.6 L321.5,651.1 L321.9,649.7 L322.3,648.3 L322.8,646.8 L323.3,645.4 L323.8,644.0 L324.3,642.6 L324.8,641.2 L325.4,639.8 L326.0,638.4 L326.6,637.0 L327.2,635.6 L327.9,634.3 L328.6,633.0 L329.3,631.7 L330.1,630.4 L330.9,629.2 L331.8,628.0 L332.8,626.9 L333.8,625.8 L334.8,624.7 L335.9,623.7 L337.1,622.8 L338.3,621.9 L339.6,621.1 L340.9,620.3 L342.2,619.5 L343.6,618.8 L344.9,618.2 L346.3,617.5 L347.7,616.9 L349.2,616.4 L350.6,615.9 L352.0,615.4 L353.5,615.0 L354.9,614.6 L356.4,614.2 L357.8,613.9 L359.3,613.5 L360.7,613.2 L362.2,613.0 L363.7,612.7 L365.1,612.5 L366.6,612.2 L368.1,612.0 L369.6,611.8 L371.1,611.6 L372.6,611.5 L374.0,611.3 L375.5,611.1 L377.0,611.0 L378.5,610.8 L380.0,610.7 L381.5,610.5 L383.0,610.4 L384.5,610.2 L386.0,610.1 L387.5,609.9 L388.9,609.8 L390.4,609.6 L391.9,609.5 L393.4,609.4 L394.9,609.2 L396.4,609.1 L397.9,609.0 L399.4,608.8 L400.9,608.7 L402.4,608.6 L403.9,608.5 L405.4,608.3 L406.9,608.2 L408.4,608.1 L409.9,608.0 L411.4,607.8 L412.9,607.7 L414.3,607.6 L415.8,607.4 L417.3,607.3 L418.8,607.2 L420.3,607.1 L421.8,606.9 L423.3,606.8 L424.8,606.7 L426.3,606.5 L427.8,606.4 L429.3,606.2 L430.8,606.1 L432.3,605.9 L433.8,605.8 L435.3,605.7 L436.8,605.5 L438.2,605.3 L439.7,605.2 L441.2,605.0 L442.7,604.9 L444.2,604.7 L445.7,604.6 L447.2,604.4 L448.7,604.2 L450.2,604.1 L451.7,603.9 L453.1,603.7 L454.6,603.5 L456.1,603.4 L457.6,603.2 L459.1,603.0 L460.6,602.8 L462.1,602.6 L463.6,602.4 L465.1,602.3 L466.5,602.1 L468.0,601.9 L469.5,601.7 L471.0,601.5 L472.5,601.3 L474.0,601.1 L475.5,600.9 L476.9,600.7 L478.4,600.5 L479.9,600.3 L481.4,600.0 L482.9,599.8 L484.4,599.6 L485.9,599.4 L487.3,599.2 L488.8,599.0 L490.3,598.7 L491.8,598.5 L493.3,598.3 L494.8,598.1 L496.2,597.8 L497.7,597.6 L499.2,597.4 L500.7,597.1 L502.2,596.9 L503.6,596.7 L505.1,596.4 L506.6,596.2 L508.1,595.9 L509.6,595.7 L511.0,595.5 L512.5,595.2 L514.0,595.0 L515.5,594.7 L517.0,594.5 L518.4,594.2 L519.9,593.9 L521.4,593.7 L522.9,593.4 L524.3,593.2 L525.8,592.9 L527.3,592.6 L528.8,592.4 L530.2,592.1 L531.7,591.8 L533.2,591.5 L534.7,591.3 L536.1,591.0 L537.6,590.7 L539.1,590.4 L540.6,590.2 L542.0,589.9 L543.5,589.6 L545.0,589.3 L546.5,589.0 L547.9,588.7 L549.4,588.4 L550.9,588.1 L552.3,587.9 L553.8,587.6 L555.3,587.3 L556.8,587.0 L558.2,586.7 L559.7,586.4 L561.2,586.1 L562.6,585.8 L564.1,585.4 L565.6,585.1 L567.0,584.8 L568.5,584.5 L570.0,584.2 L571.4,583.9 L572.9,583.6 L574.4,583.3 L575.8,582.9 L577.3,582.6 L578.8,582.3 L580.2,582.0 L581.7,581.6 L583.2,581.3 L584.6,581.0 L586.1,580.7 L587.6,580.3 L589.0,580.0 L590.5,579.7 L592.0,579.3 L593.4,579.0 L594.9,578.7 L596.3,578.3 L597.8,578.0 L599.3,577.6 L600.7,577.3 L602.2,576.9 L603.6,576.6 L605.1,576.2 L606.6,575.9 L608.0,575.6 L609.5,575.2 L610.9,574.8 L612.4,574.5 L613.9,574.1 L615.3,573.8 L616.8,573.4 L618.2,573.1 L619.7,572.7 L621.1,572.3 L622.6,572.0 L624.1,571.6 L625.5,571.3 L627.0,570.9 L628.4,570.5 L629.9,570.2 L631.3,569.8 L632.8,569.4 L634.2,569.1 L635.7,568.7 L637.2,568.3 L638.6,568.0 L640.1,567.6 L641.5,567.2 L643.0,566.8 L644.4,566.5 L645.9,566.1 L647.3,565.7 L648.8,565.3 L650.2,565.0 L651.7,564.6 L653.1,564.2 L654.6,563.8 L656.0,563.5 L657.5,563.1 L658.9,562.7 L660.4,562.3 L661.8,562.0 L663.3,561.6 L664.7,561.2 L666.2,560.8 L667.6,560.4 L669.1,560.1 L670.5,559.7 L672.0,559.3 L673.4,558.9 L674.9,558.5 L676.3,558.2 L677.8,557.8 L679.2,557.4 L680.7,557.0 L682.1,556.6 L683.6,556.3 L685.0,555.9 L686.5,555.5 L687.9,555.1 L689.3,554.7 L690.8,554.4 L692.2,554.0 L693.7,553.6 L695.1,553.2 L696.6,552.8 L698.0,552.4 L699.5,552.1 L700.9,551.7 L702.4,551.3 L703.8,550.9 L705.3,550.5 L706.7,550.1 L708.1,549.7 L709.6,549.3 L711.0,549.0 L712.5,548.6 L713.9,548.2 L715.4,547.8 L716.8,547.4 L718.3,547.0 L719.7,546.6 L721.2,546.2 L722.6,545.8 L724.0,545.4 L725.5,545.0 L726.9,544.6 L728.4,544.2 L729.8,543.8 L731.3,543.4 L732.7,542.9 L734.2,542.5 L735.6,542.1 L737.0,541.7 L738.5,541.3 L739.9,540.9 L741.4,540.5 L742.8,540.0 L744.3,539.6 L745.7,539.2 L747.1,538.8 L748.6,538.3 L750.0,537.9 L751.5,537.5 L752.9,537.0 L754.3,536.6 L755.8,536.2 L757.2,535.7 L758.7,535.3 L760.1,534.8 L761.5,534.4 L763.0,533.9 L764.4,533.5 L765.8,533.0 L767.3,532.5 L768.7,532.1 L770.1,531.6 L771.6,531.2 L773.0,530.7 L774.4,530.2 L775.8,529.7 L777.3,529.3 L778.7,528.8 L780.1,528.3 L781.5,527.8 L783.0,527.3 L784.4,526.8 L785.8,526.3 L787.2,525.8 L788.6,525.3 L790.0,524.8 L791.4,524.3 L792.9,523.8 L794.3,523.2 L795.7,522.7 L797.1,522.2 L798.5,521.7 L799.9,521.1 L801.3,520.6 L802.7,520.0 L804.1,519.5 L805.5,518.9 L806.9,518.4 L808.3,517.8 L809.6,517.3 L811.0,516.7 L812.4,516.1 L813.8,515.5 L815.2,515.0 L816.6,514.4 L817.9,513.8 L819.3,513.2 L820.7,512.6 L822.1,512.0 L823.4,511.4 L824.8,510.8 L826.1,510.2 L827.5,509.5 L828.9,508.9 L830.2,508.3 L831.6,507.7 L832.9,507.0 L834.3,506.4 L835.6,505.7 L837.0,505.1 L838.3,504.4 L839.6,503.7 L841.0,503.1 L842.3,502.4 L843.6,501.7 L845.0,501.0 L846.3,500.3 L847.6,499.6 L848.9,498.9 L850.2,498.2 L851.5,497.5 L852.8,496.8 L854.1,496.0 L855.4,495.3 L856.7,494.6 L858.0,493.8 L859.3,493.1 L860.6,492.3 L861.9,491.5 L863.2,490.8 L864.5,490.0 L865.7,489.2 L867.0,488.4 L868.3,487.6 L869.5,486.8 L870.8,486.0 L872.1,485.2 L873.3,484.4 L874.6,483.6 L875.8,482.7 L877.1,481.9 L878.3,481.0 L879.5,480.2 L880.8,479.3 L882.0,478.5 L883.2,477.6 L884.4,476.7 L885.6,475.8 L886.9,474.9 L888.1,474.0 L889.3,473.1 L890.5,472.2 L891.7,471.3 L892.8,470.3 L894.0,469.4 L895.2,468.5 L896.4,467.5 L897.5,466.5 L898.7,465.6 L899.8,464.6 L901.0,463.6 L902.1,462.6 L903.3,461.6 L904.4,460.6 L905.5,459.6 L906.6,458.6 L907.7,457.5 L908.8,456.5 L909.9,455.5 L911.0,454.4 L912.0,453.3 L913.1,452.3 L914.1,451.2 L915.2,450.1 L916.2,449.0 L917.2,447.9 L918.2,446.8 L919.2,445.7 L920.2,444.6 L921.2,443.4 L922.1,442.3 L923.1,441.1 L924.0,440.0 L925.0,438.8 L925.9,437.6 L926.8,436.4 L927.7,435.2 L928.5,434.0 L929.4,432.8 L930.3,431.6 L931.1,430.3 L931.9,429.1 L932.8,427.9 L933.6,426.6 L934.4,425.3 L935.1,424.1 L935.9,422.8 L936.7,421.5 L937.4,420.2 L938.2,418.9 L938.9,417.6 L939.6,416.3 L940.3,415.0 L941.0,413.7 L941.7,412.4 L942.4,411.0 L943.1,409.7 L943.8,408.3 L944.4,407.0 L945.1,405.6 L945.7,404.3 L946.4,402.9 L947.0,401.6 L947.7,400.2 L948.3,398.8 L948.9,397.5 L949.5,396.1 L950.1,394.7 L950.7,393.3 L951.3,391.9 L951.9,390.6 L952.5,389.2 L953.1,387.8 L953.6,386.4 L954.2,385.0 L954.8,383.6 L955.4,382.2 L955.9,380.8 L956.5,379.4 L957.0,378.0 L957.6,376.6 L958.2,375.2 L958.7,373.8 L959.3,372.4 L959.8,371.0 L960.4,369.6 L960.9,368.2 L961.5,366.8 L962.0,365.4 L962.5,364.0 L963.1,362.6 L963.6,361.2 L964.2,359.9 L964.7,358.5 L965.2,357.1 L965.8,355.7 L966.3,354.3 L966.8,352.9 L967.3,351.5 L967.9,350.1 L968.4,348.6 L968.9,347.2 L969.4,345.8 L969.9,344.4 L970.4,343.0 L970.9,341.6 L971.4,340.2 L971.9,338.8 L972.4,337.4 L972.9,336.0 L973.4,334.6 L973.9,333.2 L974.4,331.7 L974.9,330.3 L975.4,328.9 L975.8,327.5 L976.3,326.1 L976.8,324.6 L977.3,323.2 L977.7,321.8 L978.2,320.4 L978.6,318.9 L979.1,317.5 L979.6,316.1 L980.0,314.6 L980.5,313.2 L980.9,311.8 L981.3,310.3 L981.8,308.9 L982.2,307.5 L982.7,306.0 L983.1,304.6 L983.5,303.2 L983.9,301.7 L984.4,300.3 L984.8,298.8 L985.2,297.4 L985.6,295.9 L986.0,294.5 L986.5,293.1 L986.9,291.6 L987.3,290.2 L987.7,288.7 L988.1,287.3 L988.5,285.8 L988.9,284.4 L989.3,282.9 L989.7,281.5 L990.0,280.0 L990.4,278.6 L990.8,277.1 L991.2,275.7 L991.6,274.2 L992.0,272.8 L992.3,271.3 L992.7,269.9 L993.1,268.4 L993.5,267.0 L993.8,265.5 L994.2,264.1 L994.6,262.6 L994.9,261.2 L995.3,259.7 L995.6,258.3 L996.0,256.8 L996.4,255.4 L996.7,253.9 L997.1,252.4 L997.4,251.0 L997.8,249.5 L998.1,248.1 L998.5,246.6 L998.8,245.2 L999.2,243.7 L999.5,242.2 L999.9,240.8 L1000.2,239.3 L1000.6,237.9 L1000.9,236.4 L1001.3,234.9 L1001.6,233.5 L1001.9,232.0 L1002.3,230.6 L1002.6,229.1 L1003.0,227.6 L1003.3,226.2 L1003.6,224.7 L1004.0,223.3 L1004.3,221.8 L1004.7,220.3 L1005.0,218.9 L1005.3,217.4 L1005.6,215.9 L1006.0,214.5 L1006.3,213.0 L1006.6,211.5 L1007.0,210.1 L1007.3,208.6 L1007.6,207.1 L1007.9,205.7 L1008.2,204.2 L1008.6,202.7 L1008.9,201.3 L1009.2,199.8 L1009.5,198.3 L1009.8,196.9 L1010.1,195.4 L1010.5,193.9 L1010.8,192.5 L1011.1,191.0 L1011.4,189.5 L1011.7,188.1 L1012.0,186.6 L1012.3,185.1 L1012.6,183.7 L1012.9,182.2 L1013.2,180.7 L1013.4,179.2 L1013.7,177.8 L1014.0,176.3 L1014.3,174.8 L1014.6,173.4 L1014.9,171.9 L1015.2,170.4 L1015.4,168.9 L1015.7,167.5 L1016.0,166.0 L1016.2,164.5 L1016.5,163.0 L1016.8,161.6 L1017.0,160.1 L1017.3,158.6 L1017.6,157.1 L1017.8,155.7 L1018.1,154.2 L1018.3,152.7 L1018.6,151.2 L1018.8,149.7 L1019.0,148.3 L1019.3,146.8 L1019.5,145.3 L1019.7,143.8 L1020.0,142.3 L1020.2,140.9 L1020.4,139.4 L1020.7,137.9 L1020.9,136.4 L1021.1,134.9 L1021.3,133.4 L1021.5,132.0 L1021.7,130.5 L1021.9,129.0 L1022.1,127.5 L1022.3,126.0 L1022.5,124.5 L1022.7,123.1 L1022.9,121.6 L1023.1,120.1 L1023.3,118.6 L1023.4,117.1 L1023.6,115.6 L1023.9,114.1 L1024.1,112.6 L1024.3,111.2 L1024.6,109.7 L1024.9,108.2 L1025.2,106.7 L1025.6,105.2 L1025.9,103.8 L1026.4,102.3 L1026.9,100.8 L1027.6,99.4 L1028.4,98.1 L1029.5,97.0 L1030.6,96.7 L1031.6,97.3 L1032.5,98.4 L1033.3,99.7 L1034.0,101.0 L1034.5,102.4 L1035.0,103.9 L1035.4,105.3 L1035.7,106.8 L1036.1,108.3 L1036.5,109.8 L1036.8,111.3 L1037.2,112.8 L1037.6,114.2 L1038.0,115.7 L1038.3,117.1 L1038.7,118.6 L1039.1,120.0 L1039.5,121.5 L1039.9,122.9 L1040.3,124.3 L1040.7,125.8 L1041.0,127.2 L1041.4,128.7 L1041.8,130.1 L1042.2,131.6 L1042.5,133.0 L1042.9,134.5 L1043.3,135.9 L1043.6,137.4 L1044.0,138.8 L1044.3,140.3 L1044.7,141.7 L1045.1,143.2 L1045.4,144.6 L1045.8,146.1 L1046.1,147.6 L1046.5,149.0 L1046.9,150.5 L1047.2,151.9 L1047.6,153.4 L1048.0,154.9 L1048.3,156.3 L1048.7,157.8 L1049.1,159.2 L1049.5,160.7 L1049.8,162.1 L1050.2,163.6 L1050.6,165.0 L1051.0,166.5 L1051.4,167.9 L1051.8,169.4 L1052.1,170.8 L1052.5,172.3 L1052.9,173.7 L1053.3,175.2 L1053.6,176.6 L1054.0,178.1 L1054.4,179.5 L1054.8,181.0 L1055.1,182.4 L1055.5,183.9 L1055.8,185.3 L1056.2,186.8 L1056.5,188.3 L1056.8,189.7 L1057.2,191.2 L1057.5,192.6 L1057.8,194.1 L1058.1,195.6 L1058.4,197.0 L1058.7,198.5 L1059.0,200.0 L1059.3,201.4 L1059.6,202.9 L1059.9,204.4 L1060.2,205.9 L1060.5,207.3 L1060.7,208.8 L1061.0,210.3 L1061.3,211.7 L1061.5,213.2 L1061.8,214.7 L1062.0,216.2 L1062.3,217.7 L1062.5,219.1 L1062.8,220.6 L1063.0,222.1 L1063.3,223.6 L1063.5,225.1 L1063.8,226.5 L1064.0,228.0 L1064.2,229.5 L1064.5,231.0 L1064.7,232.5 L1064.9,234.0 L1065.2,235.4 L1065.4,236.9 L1065.6,238.4 L1065.8,239.9 L1066.1,241.4 L1066.3,242.9 L1066.5,244.3 L1066.8,245.8 L1067.0,247.3 L1067.2,248.8 L1067.4,250.3 L1067.7,251.8 L1067.9,253.2 L1068.1,254.7 L1068.4,256.2 L1068.6,257.7 L1068.8,259.2 L1069.1,260.7 L1069.3,262.1 L1069.5,263.6 L1069.8,265.1 L1070.0,266.6 L1070.2,268.1 L1070.5,269.6 L1070.7,271.0 L1070.9,272.5 L1071.2,274.0 L1071.4,275.5 L1071.7,277.0 L1071.9,278.4 L1072.1,279.9 L1072.4,281.4 L1072.6,282.9 L1072.9,284.4 L1073.1,285.8 L1073.4,287.3 L1073.6,288.8 L1073.8,290.3 L1074.1,291.8 L1074.3,293.2 L1074.6,294.7 L1074.8,296.2 L1075.1,297.7 L1075.3,299.2 L1075.6,300.6 L1075.8,302.1 L1076.0,303.6 L1076.3,305.1 L1076.5,306.6 L1076.8,308.0 L1077.0,309.5 L1077.3,311.0 L1077.5,312.5 L1077.8,314.0 L1078.0,315.4 L1078.3,316.9 L1078.5,318.4 L1078.7,319.9 L1079.0,321.4 L1079.2,322.8 L1079.5,324.3 L1079.7,325.8 L1080.0,327.3 L1080.2,328.8 L1080.4,330.2 L1080.7,331.7 L1080.9,333.2 L1081.2,334.7 L1081.4,336.2 L1081.6,337.6 L1081.9,339.1 L1082.1,340.6 L1082.4,342.1 L1082.6,343.6 L1082.8,345.0 L1083.1,346.5 L1083.3,348.0 L1083.6,349.5 L1083.8,351.0 L1084.0,352.4 L1084.3,353.9 L1084.5,355.4 L1084.7,356.9 L1084.9,358.4 L1085.2,359.8 L1085.4,361.3 L1085.6,362.8 L1085.9,364.3 L1086.1,365.8 L1086.3,367.3 L1086.5,368.7 L1086.8,370.2 L1087.0,371.7 L1087.2,373.2 L1087.4,374.7 L1087.7,376.2 L1087.9,377.6 L1088.1,379.1 L1088.3,380.6 L1088.5,382.1 L1088.7,383.6 L1089.0,385.1 L1089.2,386.5 L1089.4,388.0 L1089.6,389.5 L1089.8,391.0 L1090.0,392.5 L1090.2,394.0 L1090.4,395.5 L1090.6,396.9 L1090.8,398.4 L1091.0,399.9 L1091.2,401.4 L1091.4,402.9 L1091.6,404.4 L1091.8,405.9 L1092.0,407.3 L1092.2,408.8 L1092.4,410.3 L1092.6,411.8 L1092.8,413.3 L1093.0,414.8 L1093.2,416.3 L1093.4,417.8 L1093.6,419.2 L1093.8,420.7 L1094.0,422.2 L1094.2,423.7 L1094.4,425.2 L1094.6,426.7 L1094.8,428.2 L1095.0,429.7 L1095.2,431.2 L1095.4,432.6 L1095.6,434.1 L1095.8,435.6 L1096.0,437.1 L1096.2,438.6 L1096.4,440.1 L1096.6,441.6 L1096.8,443.1 L1096.9,444.5 L1097.1,446.0 L1097.3,447.5 L1097.5,449.0 L1097.7,450.5 L1097.9,452.0 L1098.1,453.5 L1098.3,455.0 L1098.5,456.4 L1098.7,457.9 L1098.9,459.4 L1099.1,460.9 L1099.3,462.4 L1099.5,463.9 L1099.7,465.4 L1099.9,466.8 L1100.1,468.3 L1100.3,469.8 L1100.5,471.3 L1100.7,472.8 L1100.9,474.3 L1101.1,475.8 L1101.3,477.2 L1101.5,478.7 L1101.7,480.2 L1101.9,481.7 L1102.2,483.2 L1102.4,484.7 L1102.6,486.2 L1102.8,487.6 L1103.0,489.1 L1103.2,490.6 L1103.4,492.1 L1103.6,493.6 L1103.9,495.1 L1104.1,496.5 L1104.3,498.0 L1104.5,499.5 L1104.7,501.0 L1105.0,502.5 L1105.2,503.9 L1105.4,505.4 L1105.7,506.9 L1105.9,508.4 L1106.1,509.9 L1106.4,511.3 L1106.6,512.8 L1106.8,514.3 L1107.1,515.8 L1107.3,517.3 L1107.6,518.7 L1107.8,520.2 L1108.0,521.7 L1108.3,523.2 L1108.5,524.7 L1108.8,526.1 L1109.1,527.6 L1109.3,529.1 L1109.6,530.6 L1109.9,532.0 L1110.1,533.5 L1110.4,535.0 L1110.7,536.5 L1110.9,537.9 L1111.2,539.4 L1111.5,540.9 L1111.8,542.4 L1112.1,543.8 L1112.4,545.3 L1112.7,546.8 L1113.0,548.3 L1113.3,549.7 L1113.6,551.2 L1113.9,552.7 L1114.2,554.2 L1114.5,555.6 L1114.8,557.1 L1115.2,558.6 L1115.5,560.0 L1115.8,561.5 L1116.2,563.0 L1116.5,564.4 L1116.9,565.9 L1117.3,567.4 L1117.6,568.8 L1118.0,570.3 L1118.5,571.7 L1118.9,573.1 L1119.4,574.6 L1119.8,576.0 L1120.3,577.4 L1120.9,578.8 L1121.4,580.2 L1122.0,581.5 L1122.6,582.9 L1123.2,584.2 L1123.9,585.6 L1124.5,586.9 L1125.3,588.2 L1126.0,589.5 L1126.8,590.8 L1127.6,592.0 L1128.4,593.1 L1131.2,593.4 L1133.4,597.1 L1137.7,597.6 L1140.5,600.2 L1143.5,599.3 L1146.2,602.2 L1148.8,599.9 L1152.3,603.0 L1154.9,600.8 L1157.3,601.4"/><path d="M162.0,640.0 L163.5,640.5 L164.9,641.0 L166.3,641.6 L167.7,642.1 L169.1,642.7 L170.4,643.3 L171.8,643.9 L173.2,644.5 L174.6,645.1 L175.9,645.7 L177.3,646.3 L178.6,647.0 L180.0,647.6 L181.3,648.3 L182.7,649.0 L184.0,649.7 L185.3,650.4 L186.6,651.1 L187.9,651.8 L189.2,652.6 L190.5,653.3 L191.8,654.1 L193.1,654.8 L194.4,655.6 L195.7,656.4 L196.9,657.2 L198.2,658.0 L199.5,658.8 L200.7,659.7 L202.0,660.5 L203.2,661.3 L204.4,662.2 L205.6,663.1 L206.9,663.9 L208.1,664.8 L209.3,665.7 L210.5,666.6 L211.7,667.5 L212.9,668.4 L214.0,669.4 L215.2,670.3 L216.4,671.2 L217.6,672.2 L218.7,673.2 L219.9,674.1 L221.0,675.1 L222.1,676.1 L223.3,677.1 L224.4,678.1 L225.5,679.1 L226.6,680.1 L227.7,681.1 L228.8,682.1 L229.9,683.2 L231.0,684.2 L232.1,685.3 L233.1,686.3 L234.2,687.4 L235.3,688.4 L236.3,689.5 L237.4,690.6 L238.4,691.7 L239.4,692.8 L240.4,693.9 L241.5,695.0 L242.5,696.1 L243.5,697.2 L244.5,698.3 L245.5,699.5 L246.4,700.6 L247.4,701.7 L248.4,702.9 L249.3,704.0 L250.3,705.2 L251.2,706.3 L252.2,707.5 L253.1,708.6 L254.1,709.8 L255.0,711.0 L256.0,712.1 L256.9,713.3 L257.9,714.4 L258.8,715.6 L259.8,716.7 L260.8,717.8 L261.7,719.0 L262.7,720.1 L263.7,721.2 L264.8,722.3 L265.8,723.4 L266.8,724.4 L267.9,725.5 L269.0,726.5 L270.1,727.6 L271.2,728.6 L272.3,729.6 L273.5,730.6 L274.7,731.5 L275.9,732.4 L277.2,733.4 L278.4,734.2 L279.7,735.1 L281.1,736.0 L282.4,736.7 L283.8,737.4 L285.2,738.0 L286.5,738.4 L287.9,738.7 L289.2,738.7 L290.6,738.5 L291.9,738.1 L293.1,737.5 L294.3,736.7 L295.5,735.7 L296.6,734.6 L297.7,733.5 L298.8,732.3 L299.8,731.0 L300.7,729.8 L301.6,728.5 L302.4,727.2 L303.2,725.9 L304.0,724.6 L304.7,723.3 L305.4,722.0 L306.0,720.6 L306.6,719.2 L307.2,717.9 L307.7,716.5 L308.2,715.1 L308.6,713.7 L309.1,712.2 L309.5,710.8 L309.9,709.4 L310.3,707.9 L310.6,706.5 L310.9,705.0 L311.2,703.5 L311.5,702.1 L311.8,700.6 L312.1,699.1 L312.4,697.6 L312.6,696.2 L312.9,694.7 L313.1,693.2 L313.4,691.7 L313.6,690.2 L313.9,688.7 L314.1,687.3 L314.3,685.8 L314.6,684.3 L314.8,682.8 L315.1,681.3 L315.3,679.8 L315.6,678.4 L315.8,676.9 L316.1,675.4 L316.4,673.9 L316.7,672.4 L316.9,671.0 L317.2,669.5 L317.5,668.0 L317.8,666.6 L318.1,665.1 L318.5,663.6 L318.8,662.2 L319.1,660.7 L319.5,659.3 L319.9,657.8 L320.2,656.4 L320.6,654.9 L321.0,653.5 L321.5,652.0 L321.9,650.6 L322.3,649.2 L322.8,647.7 L323.3,646.3 L323.8,644.9 L324.3,643.5 L324.8,642.1 L325.4,640.7 L326.0,639.3 L326.6,637.9 L327.2,636.5 L327.9,635.2 L328.6,633.9 L329.3,632.6 L330.1,631.3 L330.9,630.1 L331.8,628.9 L332.8,627.8 L333.8,626.7 L334.8,625.6 L335.9,624.6 L337.1,623.7 L338.3,622.8 L339.6,622.0 L340.9,621.2 L342.2,620.4 L343.6,619.7 L344.9,619.1 L346.3,618.4 L347.7,617.8 L349.2,617.3 L350.6,616.8 L352.0,616.3 L353.5,615.9 L354.9,615.5 L356.4,615.1 L357.8,614.8 L359.3,614.4 L360.7,614.1 L362.2,613.9 L363.7,613.6 L365.1,613.4 L366.6,613.1 L368.1,612.9 L369.6,612.7 L371.1,612.5 L372.6,612.4 L374.0,612.2 L375.5,612.0 L377.0,611.9 L378.5,611.7 L380.0,611.6 L381.5,611.4 L383.0,611.3 L384.5,611.1 L386.0,611.0 L387.5,610.8 L388.9,610.7 L390.4,610.5 L391.9,610.4 L393.4,610.3 L394.9,610.1 L396.4,610.0 L397.9,609.9 L399.4,609.7 L400.9,609.6 L402.4,609.5 L403.9,609.4 L405.4,609.2 L406.9,609.1 L408.4,609.0 L409.9,608.9 L411.4,608.7 L412.9,608.6 L414.3,608.5 L415.8,608.3 L417.3,608.2 L418.8,608.1 L420.3,608.0 L421.8,607.8 L423.3,607.7 L424.8,607.6 L426.3,607.4 L427.8,607.3 L429.3,607.1 L430.8,607.0 L432.3,606.8 L433.8,606.7 L435.3,606.6 L436.8,606.4 L438.2,606.2 L439.7,606.1 L441.2,605.9 L442.7,605.8 L444.2,605.6 L445.7,605.5 L447.2,605.3 L448.7,605.1 L450.2,605.0 L451.7,604.8 L453.1,604.6 L454.6,604.4 L456.1,604.3 L457.6,604.1 L459.1,603.9 L460.6,603.7 L462.1,603.5 L463.6,603.3 L465.1,603.2 L466.5,603.0 L468.0,602.8 L469.5,602.6 L471.0,602.4 L472.5,602.2 L474.0,602.0 L475.5,601.8 L476.9,601.6 L478.4,601.4 L479.9,601.2 L481.4,600.9 L482.9,600.7 L484.4,600.5 L485.9,600.3 L487.3,600.1 L488.8,599.9 L490.3,599.6 L491.8,599.4 L493.3,599.2 L494.8,599.0 L496.2,598.7 L497.7,598.5 L499.2,598.3 L500.7,598.0 L502.2,597.8 L503.6,597.6 L505.1,597.3 L506.6,597.1 L508.1,596.8 L509.6,596.6 L511.0,596.4 L512.5,596.1 L514.0,595.9 L515.5,595.6 L517.0,595.4 L518.4,595.1 L519.9,594.8 L521.4,594.6 L522.9,594.3 L524.3,594.1 L525.8,593.8 L527.3,593.5 L528.8,593.3 L530.2,593.0 L531.7,592.7 L533.2,592.4 L534.7,592.2 L536.1,591.9 L537.6,591.6 L539.1,591.3 L540.6,591.1 L542.0,590.8 L543.5,590.5 L545.0,590.2 L546.5,589.9 L547.9,589.6 L549.4,589.3 L550.9,589.0 L552.3,588.8 L553.8,588.5 L555.3,588.2 L556.8,587.9 L558.2,587.6 L559.7,587.3 L561.2,587.0 L562.6,586.7 L564.1,586.3 L565.6,586.0 L567.0,585.7 L568.5,585.4 L570.0,585.1 L571.4,584.8 L572.9,584.5 L574.4,584.2 L575.8,583.8 L577.3,583.5 L578.8,583.2 L580.2,582.9 L581.7,582.5 L583.2,582.2 L584.6,581.9 L586.1,581.6 L587.6,581.2 L589.0,580.9 L590.5,580.6 L592.0,580.2 L593.4,579.9 L594.9,579.6 L596.3,579.2 L597.8,578.9 L599.3,578.5 L600.7,578.2 L602.2,577.8 L603.6,577.5 L605.1,577.1 L606.6,576.8 L608.0,576.5 L609.5,576.1 L610.9,575.7 L612.4,575.4 L613.9,575.0 L615.3,574.7 L616.8,574.3 L618.2,574.0 L619.7,573.6 L621.1,573.2 L622.6,572.9 L624.1,572.5 L625.5,572.2 L627.0,571.8 L628.4,571.4 L629.9,571.1 L631.3,570.7 L632.8,570.3 L634.2,570.0 L635.7,569.6 L637.2,569.2 L638.6,568.9 L640.1,568.5 L641.5,568.1 L643.0,567.7 L644.4,567.4 L645.9,567.0 L647.3,566.6 L648.8,566.2 L650.2,565.9 L651.7,565.5 L653.1,565.1 L654.6,564.7 L656.0,564.4 L657.5,564.0 L658.9,563.6 L660.4,563.2 L661.8,562.9 L663.3,562.5 L664.7,562.1 L666.2,561.7 L667.6,561.3 L669.1,561.0 L670.5,560.6 L672.0,560.2 L673.4,559.8 L674.9,559.4 L676.3,559.1 L677.8,558.7 L679.2,558.3 L680.7,557.9 L682.1,557.5 L683.6,557.2 L685.0,556.8 L686.5,556.4 L687.9,556.0 L689.3,555.6 L690.8,555.3 L692.2,554.9 L693.7,554.5 L695.1,554.1 L696.6,553.7 L698.0,553.3 L699.5,553.0 L700.9,552.6 L702.4,552.2 L703.8,551.8 L705.3,551.4 L706.7,551.0 L708.1,550.6 L709.6,550.2 L711.0,549.9 L712.5,549.5 L713.9,549.1 L715.4,548.7 L716.8,548.3 L718.3,547.9 L719.7,547.5 L721.2,547.1 L722.6,546.7 L724.0,546.3 L725.5,545.9 L726.9,545.5 L728.4,545.1 L729.8,544.7 L731.3,544.3 L732.7,543.8 L734.2,543.4 L735.6,543.0 L737.0,542.6 L738.5,542.2 L739.9,541.8 L741.4,541.4 L742.8,540.9 L744.3,540.5 L745.7,540.1 L747.1,539.7 L748.6,539.2 L750.0,538.8 L751.5,538.4 L752.9,537.9 L754.3,537.5 L755.8,537.1 L757.2,536.6 L758.7,536.2 L760.1,535.7 L761.5,535.3 L763.0,534.8 L764.4,534.4 L765.8,533.9 L767.3,533.4 L768.7,533.0 L770.1,532.5 L771.6,532.1 L773.0,531.6 L774.4,531.1 L775.8,530.6 L777.3,530.2 L778.7,529.7 L780.1,529.2 L781.5,528.7 L783.0,528.2 L784.4,527.7 L785.8,527.2 L787.2,526.7 L788.6,526.2 L790.0,525.7 L791.4,525.2 L792.9,524.7 L794.3,524.1 L795.7,523.6 L797.1,523.1 L798.5,522.6 L799.9,522.0 L801.3,521.5 L802.7,520.9 L804.1,520.4 L805.5,519.8 L806.9,519.3 L808.3,518.7 L809.6,518.2 L811.0,517.6 L812.4,517.0 L813.8,516.4 L815.2,515.9 L816.6,515.3 L817.9,514.7 L819.3,514.1 L820.7,513.5 L822.1,512.9 L823.4,512.3 L824.8,511.7 L826.1,511.1 L827.5,510.4 L828.9,509.8 L830.2,509.2 L831.6,508.6 L832.9,507.9 L834.3,507.3 L835.6,506.6 L837.0,506.0 L838.3,505.3 L839.6,504.6 L841.0,504.0 L842.3,503.3 L843.6,502.6 L845.0,501.9 L846.3,501.2 L847.6,500.5 L848.9,499.8 L850.2,499.1 L851.5,498.4 L852.8,497.7 L854.1,496.9 L855.4,496.2 L856.7,495.5 L858.0,494.7 L859.3,494.0 L860.6,493.2 L861.9,492.4 L863.2,491.7 L864.5,490.9 L865.7,490.1 L867.0,489.3 L868.3,488.5 L869.5,487.7 L870.8,486.9 L872.1,486.1 L873.3,485.3 L874.6,484.5 L875.8,483.6 L877.1,482.8 L878.3,481.9 L879.5,481.1 L880.8,480.2 L882.0,479.4 L883.2,478.5 L884.4,477.6 L885.6,476.7 L886.9,475.8 L888.1,474.9 L889.3,474.0 L890.5,473.1 L891.7,472.2 L892.8,471.2 L894.0,470.3 L895.2,469.4 L896.4,468.4 L897.5,467.4 L898.7,466.5 L899.8,465.5 L901.0,464.5 L902.1,463.5 L903.3,462.5 L904.4,461.5 L905.5,460.5 L906.6,459.5 L907.7,458.4 L908.8,457.4 L909.9,456.4 L911.0,455.3 L912.0,454.2 L913.1,453.2 L914.1,452.1 L915.2,451.0 L916.2,449.9 L917.2,448.8 L918.2,447.7 L919.2,446.6 L920.2,445.5 L921.2,444.3 L922.1,443.2 L923.1,442.0 L924.0,440.9 L925.0,439.7 L925.9,438.5 L926.8,437.3 L927.7,436.1 L928.5,434.9 L929.4,433.7 L930.3,432.5 L931.1,431.2 L931.9,430.0 L932.8,428.8 L933.6,427.5 L934.4,426.2 L935.1,425.0 L935.9,423.7 L936.7,422.4 L937.4,421.1 L938.2,419.8 L938.9,418.5 L939.6,417.2 L940.3,415.9 L941.0,414.6 L941.7,413.3 L942.4,411.9 L943.1,410.6 L943.8,409.2 L944.4,407.9 L945.1,406.5 L945.7,405.2 L946.4,403.8 L947.0,402.5 L947.7,401.1 L948.3,399.7 L948.9,398.4 L949.5,397.0 L950.1,395.6 L950.7,394.2 L951.3,392.8 L951.9,391.5 L952.5,390.1 L953.1,388.7 L953.6,387.3 L954.2,385.9 L954.8,384.5 L955.4,383.1 L955.9,381.7 L956.5,380.3 L957.0,378.9 L957.6,377.5 L958.2,376.1 L958.7,374.7 L959.3,373.3 L959.8,371.9 L960.4,370.5 L960.9,369.1 L961.5,367.7 L962.0,366.3 L962.5,364.9 L963.1,363.5 L963.6,362.1 L964.2,360.8 L964.7,359.4 L965.2,358.0 L965.8,356.6 L966.3,355.2 L966.8,353.8 L967.3,352.4 L967.9,351.0 L968.4,349.5 L968.9,348.1 L969.4,346.7 L969.9,345.3 L970.4,343.9 L970.9,342.5 L971.4,341.1 L971.9,339.7 L972.4,338.3 L972.9,336.9 L973.4,335.5 L973.9,334.1 L974.4,332.6 L974.9,331.2 L975.4,329.8 L975.8,328.4 L976.3,327.0 L976.8,325.5 L977.3,324.1 L977.7,322.7 L978.2,321.3 L978.6,319.8 L979.1,318.4 L979.6,317.0 L980.0,315.5 L980.5,314.1 L980.9,312.7 L981.3,311.2 L981.8,309.8 L982.2,308.4 L982.7,306.9 L983.1,305.5 L983.5,304.1 L983.9,302.6 L984.4,301.2 L984.8,299.7 L985.2,298.3 L985.6,296.8 L986.0,295.4 L986.5,294.0 L986.9,292.5 L987.3,291.1 L987.7,289.6 L988.1,288.2 L988.5,286.7 L988.9,285.3 L989.3,283.8 L989.7,282.4 L990.0,280.9 L990.4,279.5 L990.8,278.0 L991.2,276.6 L991.6,275.1 L992.0,273.7 L992.3,272.2 L992.7,270.8 L993.1,269.3 L993.5,267.9 L993.8,266.4 L994.2,265.0 L994.6,263.5 L994.9,262.1 L995.3,260.6 L995.6,259.2 L996.0,257.7 L996.4,256.3 L996.7,254.8 L997.1,253.3 L997.4,251.9 L997.8,250.4 L998.1,249.0 L998.5,247.5 L998.8,246.1 L999.2,244.6 L999.5,243.1 L999.9,241.7 L1000.2,240.2 L1000.6,238.8 L1000.9,237.3 L1001.3,235.8 L1001.6,234.4 L1001.9,232.9 L1002.3,231.5 L1002.6,230.0 L1003.0,228.5 L1003.3,227.1 L1003.6,225.6 L1004.0,224.2 L1004.3,222.7 L1004.7,221.2 L1005.0,219.8 L1005.3,218.3 L1005.6,216.8 L1006.0,215.4 L1006.3,213.9 L1006.6,212.4 L1007.0,211.0 L1007.3,209.5 L1007.6,208.0 L1007.9,206.6 L1008.2,205.1 L1008.6,203.6 L1008.9,202.2 L1009.2,200.7 L1009.5,199.2 L1009.8,197.8 L1010.1,196.3 L1010.5,194.8 L1010.8,193.4 L1011.1,191.9 L1011.4,190.4 L1011.7,189.0 L1012.0,187.5 L1012.3,186.0 L1012.6,184.6 L1012.9,183.1 L1013.2,181.6 L1013.4,180.1 L1013.7,178.7 L1014.0,177.2 L1014.3,175.7 L1014.6,174.3 L1014.9,172.8 L1015.2,171.3 L1015.4,169.8 L1015.7,168.4 L1016.0,166.9 L1016.2,165.4 L1016.5,163.9 L1016.8,162.5 L1017.0,161.0 L1017.3,159.5 L1017.6,158.0 L1017.8,156.6 L1018.1,155.1 L1018.3,153.6 L1018.6,152.1 L1018.8,150.6 L1019.0,149.2 L1019.3,147.7 L1019.5,146.2 L1019.7,144.7 L1020.0,143.2 L1020.2,141.8 L1020.4,140.3 L1020.7,138.8 L1020.9,137.3 L1021.1,135.8 L1021.3,134.3 L1021.5,132.9 L1021.7,131.4 L1021.9,129.9 L1022.1,128.4 L1022.3,126.9 L1022.5,125.4 L1022.7,124.0 L1022.9,122.5 L1023.1,121.0 L1023.3,119.5 L1023.4,118.0 L1023.6,116.5 L1023.9,115.0 L1024.1,113.5 L1024.3,112.1 L1024.6,110.6 L1024.9,109.1 L1025.2,107.6 L1025.6,106.1 L1025.9,104.7 L1026.4,103.2 L1026.9,101.7 L1027.6,100.3 L1028.4,99.0 L1029.5,97.9 L1030.6,97.6 L1031.6,98.2 L1032.5,99.3 L1033.3,100.6 L1034.0,101.9 L1034.5,103.3 L1035.0,104.8 L1035.4,106.2 L1035.7,107.7 L1036.1,109.2 L1036.5,110.7 L1036.8,112.2 L1037.2,113.7 L1037.6,115.1 L1038.0,116.6 L1038.3,118.0 L1038.7,119.5 L1039.1,120.9 L1039.5,122.4 L1039.9,123.8 L1040.3,125.2 L1040.7,126.7 L1041.0,128.1 L1041.4,129.6 L1041.8,131.0 L1042.2,132.5 L1042.5,133.9 L1042.9,135.4 L1043.3,136.8 L1043.6,138.3 L1044.0,139.7 L1044.3,141.2 L1044.7,142.6 L1045.1,144.1 L1045.4,145.5 L1045.8,147.0 L1046.1,148.5 L1046.5,149.9 L1046.9,151.4 L1047.2,152.8 L1047.6,154.3 L1048.0,155.8 L1048.3,157.2 L1048.7,158.7 L1049.1,160.1 L1049.5,161.6 L1049.8,163.0 L1050.2,164.5 L1050.6,165.9 L1051.0,167.4 L1051.4,168.8 L1051.8,170.3 L1052.1,171.7 L1052.5,173.2 L1052.9,174.6 L1053.3,176.1 L1053.6,177.5 L1054.0,179.0 L1054.4,180.4 L1054.8,181.9 L1055.1,183.3 L1055.5,184.8 L1055.8,186.2 L1056.2,187.7 L1056.5,189.2 L1056.8,190.6 L1057.2,192.1 L1057.5,193.5 L1057.8,195.0 L1058.1,196.5 L1058.4,197.9 L1058.7,199.4 L1059.0,200.9 L1059.3,202.3 L1059.6,203.8 L1059.9,205.3 L1060.2,206.8 L1060.5,208.2 L1060.7,209.7 L1061.0,211.2 L1061.3,212.6 L1061.5,214.1 L1061.8,215.6 L1062.0,217.1 L1062.3,218.6 L1062.5,220.0 L1062.8,221.5 L1063.0,223.0 L1063.3,224.5 L1063.5,226.0 L1063.8,227.4 L1064.0,228.9 L1064.2,230.4 L1064.5,231.9 L1064.7,233.4 L1064.9,234.9 L1065.2,236.3 L1065.4,237.8 L1065.6,239.3 L1065.8,240.8 L1066.1,242.3 L1066.3,243.8 L1066.5,245.2 L1066.8,246.7 L1067.0,248.2 L1067.2,249.7 L1067.4,251.2 L1067.7,252.7 L1067.9,254.1 L1068.1,255.6 L1068.4,257.1 L1068.6,258.6 L1068.8,260.1 L1069.1,261.6 L1069.3,263.0 L1069.5,264.5 L1069.8,266.0 L1070.0,267.5 L1070.2,269.0 L1070.5,270.5 L1070.7,271.9 L1070.9,273.4 L1071.2,274.9 L1071.4,276.4 L1071.7,277.9 L1071.9,279.3 L1072.1,280.8 L1072.4,282.3 L1072.6,283.8 L1072.9,285.3 L1073.1,286.7 L1073.4,288.2 L1073.6,289.7 L1073.8,291.2 L1074.1,292.7 L1074.3,294.1 L1074.6,295.6 L1074.8,297.1 L1075.1,298.6 L1075.3,300.1 L1075.6,301.5 L1075.8,303.0 L1076.0,304.5 L1076.3,306.0 L1076.5,307.5 L1076.8,308.9 L1077.0,310.4 L1077.3,311.9 L1077.5,313.4 L1077.8,314.9 L1078.0,316.3 L1078.3,317.8 L1078.5,319.3 L1078.7,320.8 L1079.0,322.3 L1079.2,323.7 L1079.5,325.2 L1079.7,326.7 L1080.0,328.2 L1080.2,329.7 L1080.4,331.1 L1080.7,332.6 L1080.9,334.1 L1081.2,335.6 L1081.4,337.1 L1081.6,338.5 L1081.9,340.0 L1082.1,341.5 L1082.4,343.0 L1082.6,344.5 L1082.8,345.9 L1083.1,347.4 L1083.3,348.9 L1083.6,350.4 L1083.8,351.9 L1084.0,353.3 L1084.3,354.8 L1084.5,356.3 L1084.7,357.8 L1084.9,359.3 L1085.2,360.7 L1085.4,362.2 L1085.6,363.7 L1085.9,365.2 L1086.1,366.7 L1086.3,368.2 L1086.5,369.6 L1086.8,371.1 L1087.0,372.6 L1087.2,374.1 L1087.4,375.6 L1087.7,377.1 L1087.9,378.5 L1088.1,380.0 L1088.3,381.5 L1088.5,383.0 L1088.7,384.5 L1089.0,386.0 L1089.2,387.4 L1089.4,388.9 L1089.6,390.4 L1089.8,391.9 L1090.0,393.4 L1090.2,394.9 L1090.4,396.4 L1090.6,397.8 L1090.8,399.3 L1091.0,400.8 L1091.2,402.3 L1091.4,403.8 L1091.6,405.3 L1091.8,406.8 L1092.0,408.2 L1092.2,409.7 L1092.4,411.2 L1092.6,412.7 L1092.8,414.2 L1093.0,415.7 L1093.2,417.2 L1093.4,418.7 L1093.6,420.1 L1093.8,421.6 L1094.0,423.1 L1094.2,424.6 L1094.4,426.1 L1094.6,427.6 L1094.8,429.1 L1095.0,430.6 L1095.2,432.1 L1095.4,433.5 L1095.6,435.0 L1095.8,436.5 L1096.0,438.0 L1096.2,439.5 L1096.4,441.0 L1096.6,442.5 L1096.8,444.0 L1096.9,445.4 L1097.1,446.9 L1097.3,448.4 L1097.5,449.9 L1097.7,451.4 L1097.9,452.9 L1098.1,454.4 L1098.3,455.9 L1098.5,457.3 L1098.7,458.8 L1098.9,460.3 L1099.1,461.8 L1099.3,463.3 L1099.5,464.8 L1099.7,466.3 L1099.9,467.7 L1100.1,469.2 L1100.3,470.7 L1100.5,472.2 L1100.7,473.7 L1100.9,475.2 L1101.1,476.7 L1101.3,478.1 L1101.5,479.6 L1101.7,481.1 L1101.9,482.6 L1102.2,484.1 L1102.4,485.6 L1102.6,487.1 L1102.8,488.5 L1103.0,490.0 L1103.2,491.5 L1103.4,493.0 L1103.6,494.5 L1103.9,496.0 L1104.1,497.4 L1104.3,498.9 L1104.5,500.4 L1104.7,501.9 L1105.0,503.4 L1105.2,504.8 L1105.4,506.3 L1105.7,507.8 L1105.9,509.3 L1106.1,510.8 L1106.4,512.2 L1106.6,513.7 L1106.8,515.2 L1107.1,516.7 L1107.3,518.2 L1107.6,519.6 L1107.8,521.1 L1108.0,522.6 L1108.3,524.1 L1108.5,525.6 L1108.8,527.0 L1109.1,528.5 L1109.3,530.0 L1109.6,531.5 L1109.9,532.9 L1110.1,534.4 L1110.4,535.9 L1110.7,537.4 L1110.9,538.8 L1111.2,540.3 L1111.5,541.8 L1111.8,543.3 L1112.1,544.7 L1112.4,546.2 L1112.7,547.7 L1113.0,549.2 L1113.3,550.6 L1113.6,552.1 L1113.9,553.6 L1114.2,555.1 L1114.5,556.5 L1114.8,558.0 L1115.2,559.5 L1115.5,560.9 L1115.8,562.4 L1116.2,563.9 L1116.5,565.3 L1116.9,566.8 L1117.3,568.3 L1117.6,569.7 L1118.0,571.2 L1118.5,572.6 L1118.9,574.0 L1119.4,575.5 L1119.8,576.9 L1120.3,578.3 L1120.9,579.7 L1121.4,581.1 L1122.0,582.4 L1122.6,583.8 L1123.2,585.1 L1123.9,586.5 L1124.5,587.8 L1125.3,589.1 L1126.0,590.4 L1126.8,591.7 L1127.6,592.9 L1128.4,594.0 L1131.2,594.4 L1133.4,598.1 L1137.7,598.6 L1140.5,601.2 L1143.5,600.2 L1146.2,603.2 L1148.8,600.9 L1152.3,604.0 L1154.9,601.7 L1157.3,602.4"/></g>
<g stroke="#000000" stroke-width="2.7" fill="none"><path d="M160.8,823.2 H1158.6"/><path d="M160.8,25.6 H1158.6"/><path d="M197.1,823.2 v7.3 M197.1,25.6 v7.3 M284.5,823.2 v15.7 M284.5,25.6 v15.7 M371.9,823.2 v7.3 M371.9,25.6 v7.3 M459.3,823.2 v15.7 M459.3,25.6 v15.7 M546.7,823.2 v7.3 M546.7,25.6 v7.3 M634.1,823.2 v15.7 M634.1,25.6 v15.7 M721.5,823.2 v7.3 M721.5,25.6 v7.3 M809.0,823.2 v15.7 M809.0,25.6 v15.7 M896.4,823.2 v7.3 M896.4,25.6 v7.3 M983.8,823.2 v15.7 M983.8,25.6 v15.7 M1071.2,823.2 v7.3 M1071.2,25.6 v7.3 M1158.6,823.2 v15.7"/></g>
<path d="M162.1,24.2 V824.6 M162.1,823.2 h-7.3 M162.1,756.7 h-15.7 M162.1,690.3 h-7.3 M162.1,623.8 h-15.7 M162.1,557.3 h-7.3 M162.1,490.9 h-15.7 M162.1,424.4 h-7.3 M162.1,357.9 h-15.7 M162.1,291.5 h-7.3 M162.1,225.0 h-15.7 M162.1,158.5 h-7.3 M162.1,92.1 h-15.7 M162.1,25.6 h-7.3" stroke="#555555" stroke-width="2.7" fill="none"/>
<path d="M1158.6,25.6 v15.7" stroke="#ee4040" stroke-width="3.7" fill="none"/>
<path d="M1158.6,24.2 V824.6 M1158.6,823.2 h15.7 M1158.6,776.3 h7.3 M1158.6,729.4 h15.7 M1158.6,682.4 h7.3 M1158.6,635.5 h15.7 M1158.6,588.6 h7.3 M1158.6,541.7 h15.7 M1158.6,494.8 h7.3 M1158.6,447.9 h15.7 M1158.6,400.9 h7.3 M1158.6,354.0 h15.7 M1158.6,307.1 h7.3 M1158.6,260.2 h15.7 M1158.6,213.3 h7.3 M1158.6,166.4 h15.7 M1158.6,119.4 h7.3 M1158.6,72.5 h15.7 M1158.6,25.6 h7.3" stroke="#ee4040" stroke-width="2.7" fill="none"/>
<text transform="translate(135.6,767.3) scale(1,1.05)" text-anchor="end" style="font-family:'Liberation Sans',Arial,sans-serif;font-size:34px" fill="#555555">0</text>
<text transform="translate(135.6,634.4) scale(1,1.05)" text-anchor="end" style="font-family:'Liberation Sans',Arial,sans-serif;font-size:34px" fill="#555555">20</text>
<text transform="translate(135.6,501.5) scale(1,1.05)" text-anchor="end" style="font-family:'Liberation Sans',Arial,sans-serif;font-size:34px" fill="#555555">40</text>
<text transform="translate(135.6,368.5) scale(1,1.05)" text-anchor="end" style="font-family:'Liberation Sans',Arial,sans-serif;font-size:34px" fill="#555555">60</text>
<text transform="translate(135.6,235.6) scale(1,1.05)" text-anchor="end" style="font-family:'Liberation Sans',Arial,sans-serif;font-size:34px" fill="#555555">80</text>
<text transform="translate(135.6,102.7) scale(1,1.05)" text-anchor="end" style="font-family:'Liberation Sans',Arial,sans-serif;font-size:34px" fill="#555555">100</text>
<text transform="translate(284.8,876.0) scale(1,1.05)" text-anchor="middle" style="font-family:'Liberation Sans',Arial,sans-serif;font-size:34px" fill="#000000">100</text>
<text transform="translate(459.6,876.0) scale(1,1.05)" text-anchor="middle" style="font-family:'Liberation Sans',Arial,sans-serif;font-size:34px" fill="#000000">200</text>
<text transform="translate(634.4,876.0) scale(1,1.05)" text-anchor="middle" style="font-family:'Liberation Sans',Arial,sans-serif;font-size:34px" fill="#000000">300</text>
<text transform="translate(809.3,876.0) scale(1,1.05)" text-anchor="middle" style="font-family:'Liberation Sans',Arial,sans-serif;font-size:34px" fill="#000000">400</text>
<text transform="translate(984.1,876.0) scale(1,1.05)" text-anchor="middle" style="font-family:'Liberation Sans',Arial,sans-serif;font-size:34px" fill="#000000">500</text>
<text transform="translate(1158.9,876.0) scale(1,1.05)" text-anchor="middle" style="font-family:'Liberation Sans',Arial,sans-serif;font-size:34px" fill="#000000">600</text>
<text transform="translate(1184.8,833.7) scale(1,1.05)" style="font-family:'Liberation Sans',Arial,sans-serif;font-size:34px" fill="#ee4040">-100</text>
<text transform="translate(1184.8,739.9) scale(1,1.05)" style="font-family:'Liberation Sans',Arial,sans-serif;font-size:34px" fill="#ee4040">-50</text>
<text transform="translate(1184.8,646.0) scale(1,1.05)" style="font-family:'Liberation Sans',Arial,sans-serif;font-size:34px" fill="#ee4040">0</text>
<text transform="translate(1184.8,552.2) scale(1,1.05)" style="font-family:'Liberation Sans',Arial,sans-serif;font-size:34px" fill="#ee4040">50</text>
<text transform="translate(1184.8,458.4) scale(1,1.05)" style="font-family:'Liberation Sans',Arial,sans-serif;font-size:34px" fill="#ee4040">100</text>
<text transform="translate(1184.8,364.5) scale(1,1.05)" style="font-family:'Liberation Sans',Arial,sans-serif;font-size:34px" fill="#ee4040">150</text>
<text transform="translate(1184.8,270.7) scale(1,1.05)" style="font-family:'Liberation Sans',Arial,sans-serif;font-size:34px" fill="#ee4040">200</text>
<text transform="translate(1184.8,176.9) scale(1,1.05)" style="font-family:'Liberation Sans',Arial,sans-serif;font-size:34px" fill="#ee4040">250</text>
<text transform="translate(1184.8,83.0) scale(1,1.05)" style="font-family:'Liberation Sans',Arial,sans-serif;font-size:34px" fill="#ee4040">300</text>
<text transform="translate(51.9,423.8) rotate(-90) scale(1,1.05)" text-anchor="middle" style="font-family:'Liberation Sans',Arial,sans-serif;font-size:41.6px" fill="#000">Mass (%)</text>
<text transform="translate(660.6,947.5) scale(1,1.05)" text-anchor="middle" style="font-family:'Liberation Sans',Arial,sans-serif;font-size:41.6px" fill="#000">Temperature (<tspan dy="-16.2" style="font-size:27.5px">o</tspan><tspan dy="16.2">C</tspan><tspan dx="2.2">)</tspan></text>
<text transform="translate(1290.3,419.2) rotate(-90) scale(1,1.05)" text-anchor="middle" style="font-family:'Liberation Serif','Times New Roman',serif;font-size:41.9px" fill="#000">DTA (μV)</text>
<path d="M827.4,113.05 H887" stroke="#555555" stroke-width="3.7" fill="none"/>
<rect x="855.9" y="112.3" width="2.2" height="1.5" fill="#000"/>
<path d="M827.4,145.55 H887" stroke="#ee4040" stroke-width="3.7" fill="none"/>
<text transform="translate(894.3,122.3) scale(1,1.05)" style="font-family:'Liberation Sans',Arial,sans-serif;font-size:26.7px" fill="#000">Mass</text>
<text transform="translate(894.6,154.6) scale(1,1.05)" style="font-family:'Liberation Sans',Arial,sans-serif;font-size:26.7px" fill="#000">DTA</text>
</svg>
</body>
</html>
